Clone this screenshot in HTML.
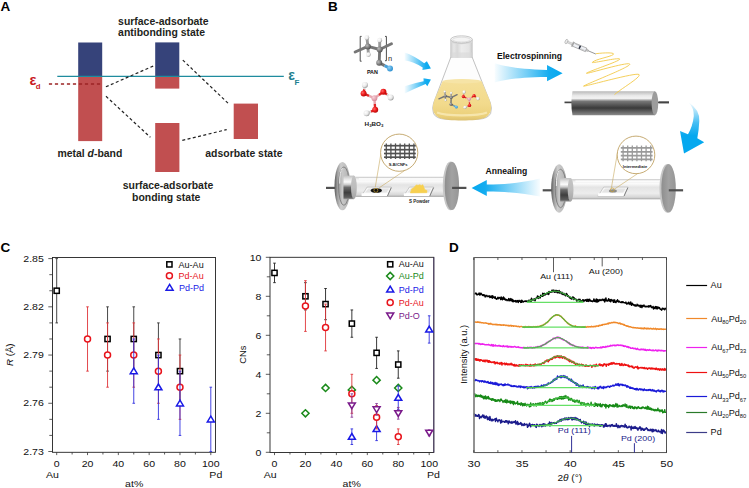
<!DOCTYPE html>
<html><head><meta charset="utf-8"><style>
html,body{margin:0;padding:0;background:#fff;}
svg{display:block;font-family:"Liberation Sans", sans-serif;}
</style></head><body>
<svg width="749" height="488" viewBox="0 0 749 488">
<rect width="749" height="488" fill="#fff"/>

<defs>
<linearGradient id="gAR" x1="0" y1="0" x2="1" y2="0"><stop offset="0" stop-color="#08a8ef" stop-opacity="0.03"/><stop offset="0.5" stop-color="#08a8ef" stop-opacity="0.6"/><stop offset="0.8" stop-color="#08a8ef" stop-opacity="0.95"/><stop offset="1" stop-color="#05a8ef"/></linearGradient>
<linearGradient id="gAL" x1="1" y1="0" x2="0" y2="0"><stop offset="0" stop-color="#08a8ef" stop-opacity="0.03"/><stop offset="0.5" stop-color="#08a8ef" stop-opacity="0.6"/><stop offset="0.8" stop-color="#08a8ef" stop-opacity="0.95"/><stop offset="1" stop-color="#05a8ef"/></linearGradient>
<linearGradient id="gAD" x1="0" y1="0" x2="0" y2="1"><stop offset="0" stop-color="#08a8ef" stop-opacity="0.03"/><stop offset="0.4" stop-color="#08a8ef" stop-opacity="0.75"/><stop offset="0.65" stop-color="#05a8ef"/></linearGradient>
<linearGradient id="gDrum" x1="0" y1="0" x2="0" y2="1"><stop offset="0" stop-color="#b8b8b8"/><stop offset="0.18" stop-color="#e8e8e8"/><stop offset="0.3" stop-color="#f4f4f4"/><stop offset="0.42" stop-color="#777"/><stop offset="0.7" stop-color="#3a3a3a"/><stop offset="1" stop-color="#8a8a8a"/></linearGradient>
<linearGradient id="gTube" x1="0" y1="0" x2="0" y2="1"><stop offset="0" stop-color="#c4c4c4"/><stop offset="0.1" stop-color="#eeeeee"/><stop offset="0.22" stop-color="#fbfbfb"/><stop offset="0.4" stop-color="#e4e4e4"/><stop offset="0.7" stop-color="#ededed"/><stop offset="0.9" stop-color="#d6d6d6"/><stop offset="1" stop-color="#a4a4a4"/></linearGradient>
<linearGradient id="gSleeve" x1="0" y1="0" x2="0" y2="1"><stop offset="0" stop-color="#c0c0c0"/><stop offset="0.15" stop-color="#e6e6e6"/><stop offset="0.27" stop-color="#fbfbfb"/><stop offset="0.38" stop-color="#cccccc"/><stop offset="0.5" stop-color="#6a6a6a"/><stop offset="0.72" stop-color="#3e3e3e"/><stop offset="0.92" stop-color="#5c5c5c"/><stop offset="1" stop-color="#9a9a9a"/></linearGradient>
<linearGradient id="gSleeveEnd" x1="0" y1="0" x2="0" y2="1"><stop offset="0" stop-color="#c4c4c4"/><stop offset="0.5" stop-color="#bdbdbd"/><stop offset="1" stop-color="#a4a4a4"/></linearGradient>
<linearGradient id="gFlFace" x1="0" y1="0" x2="1" y2="0"><stop offset="0" stop-color="#9a9a9a"/><stop offset="0.35" stop-color="#c8c8c8"/><stop offset="1" stop-color="#b2b2b2"/></linearGradient>
<linearGradient id="gFl" x1="0" y1="0" x2="1" y2="0"><stop offset="0" stop-color="#5a5a5a"/><stop offset="0.18" stop-color="#9c9c9c"/><stop offset="0.4" stop-color="#cdcdcd"/><stop offset="0.75" stop-color="#bdbdbd"/><stop offset="1" stop-color="#9a9a9a"/></linearGradient>
<linearGradient id="gFl2" x1="0" y1="0" x2="1" y2="0"><stop offset="0" stop-color="#8e8e8e"/><stop offset="0.5" stop-color="#a2a2a2"/><stop offset="1" stop-color="#969696"/></linearGradient>
<linearGradient id="gLiq" x1="0" y1="0" x2="0" y2="1"><stop offset="0" stop-color="#f5e09a"/><stop offset="0.6" stop-color="#f2da8c"/><stop offset="0.9" stop-color="#ebd07a"/><stop offset="1" stop-color="#dcc070"/></linearGradient>
<linearGradient id="gNeck" x1="0" y1="0" x2="1" y2="0"><stop offset="0" stop-color="#d2d2d2"/><stop offset="0.15" stop-color="#e6e6e6"/><stop offset="0.3" stop-color="#d8d8d8"/><stop offset="0.5" stop-color="#ececec"/><stop offset="0.85" stop-color="#e4e4e4"/><stop offset="1" stop-color="#cacaca"/></linearGradient>
<radialGradient id="rGray" cx="0.35" cy="0.35" r="0.7"><stop offset="0" stop-color="#bdbdbd"/><stop offset="1" stop-color="#4e4e4e"/></radialGradient>
<radialGradient id="rWhite" cx="0.35" cy="0.35" r="0.7"><stop offset="0" stop-color="#ffffff"/><stop offset="0.6" stop-color="#e8e8e8"/><stop offset="1" stop-color="#9a9a9a"/></radialGradient>
<radialGradient id="rRed" cx="0.35" cy="0.35" r="0.7"><stop offset="0" stop-color="#ff6a6a"/><stop offset="0.5" stop-color="#ee1c1c"/><stop offset="1" stop-color="#b00808"/></radialGradient>
<radialGradient id="rPink" cx="0.35" cy="0.35" r="0.7"><stop offset="0" stop-color="#f8d0d8"/><stop offset="1" stop-color="#d68a98"/></radialGradient>
<radialGradient id="rBlue" cx="0.35" cy="0.35" r="0.7"><stop offset="0" stop-color="#8fd0f5"/><stop offset="1" stop-color="#2a8fd0"/></radialGradient>
</defs>

<text transform="translate(0.60,10.90)" font-size="13.5" font-weight="bold" fill="#000" text-anchor="start">A</text>
<rect x="78.20" y="42.50" width="24.00" height="33.90" fill="#36437a"/>
<rect x="78.20" y="76.40" width="24.00" height="64.70" fill="#c14f50"/>
<rect x="155.20" y="42.40" width="24.10" height="34.20" fill="#36437a"/>
<rect x="155.20" y="76.60" width="24.10" height="12.00" fill="#c14f50"/>
<rect x="155.20" y="123.00" width="24.20" height="49.00" fill="#c14f50"/>
<rect x="233.70" y="103.60" width="24.30" height="35.40" fill="#c14f50"/>
<line x1="57.30" y1="76.40" x2="283.80" y2="76.40" stroke="#1f8c9e" stroke-width="1.4"/>
<line x1="48.90" y1="84.10" x2="101.00" y2="84.10" stroke="#9c2424" stroke-width="1.5" stroke-dasharray="3.2 2.8"/>
<line x1="105.90" y1="86.80" x2="154.70" y2="65.40" stroke="#222" stroke-width="1.2" stroke-dasharray="3 2.4"/>
<line x1="182.80" y1="60.10" x2="229.20" y2="104.30" stroke="#222" stroke-width="1.2" stroke-dasharray="3 2.4"/>
<line x1="106.00" y1="96.30" x2="150.40" y2="137.30" stroke="#222" stroke-width="1.2" stroke-dasharray="3 2.4"/>
<line x1="182.30" y1="140.40" x2="226.70" y2="129.60" stroke="#222" stroke-width="1.2" stroke-dasharray="3 2.4"/>
<text transform="translate(29.40,84.50)" font-size="14.5" font-weight="bold" fill="#c8161d" text-anchor="start">&#949;</text>
<text transform="translate(35.80,88.80)" font-size="7.8" font-weight="bold" fill="#c8161d" text-anchor="start">d</text>
<text transform="translate(288.20,80.20)" font-size="14" font-weight="bold" fill="#1e7f90" text-anchor="start">&#949;</text>
<text transform="translate(294.60,84.80)" font-size="8" font-weight="bold" fill="#1e7f90" text-anchor="start">F</text>
<text transform="translate(118.10,24.70)" font-size="10.45" font-weight="bold" fill="#231f20" text-anchor="start">surface-adsorbate</text>
<text transform="translate(118.10,36.40)" font-size="10.45" font-weight="bold" fill="#231f20" text-anchor="start">antibonding state</text>
<text x="57.4" y="157" font-size="10.45" font-weight="bold" fill="#231f20">metal <tspan font-style="italic">d</tspan>-band</text>
<text transform="translate(205.30,156.80)" font-size="10.45" font-weight="bold" fill="#231f20" text-anchor="start">adsorbate state</text>
<text transform="translate(122.70,188.90)" font-size="10.45" font-weight="bold" fill="#231f20" text-anchor="start">surface-adsorbate</text>
<text transform="translate(132.00,200.60)" font-size="10.45" font-weight="bold" fill="#231f20" text-anchor="start">bonding state</text>
<text transform="translate(328.00,11.20)" font-size="13.5" font-weight="bold" fill="#000" text-anchor="start">B</text>
<g stroke="#444" stroke-width="0.95" fill="none"><path d="M361.6,36.4 H360.2 V61.2 H361.6"/><path d="M385,36.4 H386.4 V60.7 H385"/></g>
<line x1="355.10" y1="52.00" x2="367.90" y2="46.40" stroke="#767676" stroke-width="2.9" stroke-linecap="round"/>
<line x1="367.90" y1="46.40" x2="379.70" y2="49.50" stroke="#767676" stroke-width="2.9" stroke-linecap="round"/>
<line x1="379.70" y1="49.50" x2="391.50" y2="43.80" stroke="#767676" stroke-width="2.9" stroke-linecap="round"/>
<line x1="367.90" y1="46.40" x2="366.90" y2="37.70" stroke="#9a9a9a" stroke-width="2.9" stroke-linecap="round"/>
<line x1="367.90" y1="46.40" x2="368.40" y2="54.60" stroke="#9a9a9a" stroke-width="2.9" stroke-linecap="round"/>
<line x1="379.70" y1="49.50" x2="379.70" y2="40.20" stroke="#9a9a9a" stroke-width="2.9" stroke-linecap="round"/>
<line x1="379.70" y1="49.50" x2="379.20" y2="62.80" stroke="#767676" stroke-width="2.9" stroke-linecap="round"/>
<line x1="379.20" y1="62.80" x2="384.60" y2="65.60" stroke="#767676" stroke-width="2.9"/>
<line x1="384.60" y1="65.60" x2="390.00" y2="68.40" stroke="#4aa0d8" stroke-width="2.9"/>
<circle cx="366.90" cy="37.70" r="2.40" fill="url(#rWhite)"/>
<circle cx="368.40" cy="54.60" r="2.40" fill="url(#rWhite)"/>
<circle cx="379.70" cy="40.20" r="2.40" fill="url(#rWhite)"/>
<circle cx="367.90" cy="46.40" r="3.00" fill="url(#rGray)"/>
<circle cx="379.70" cy="49.50" r="3.00" fill="url(#rGray)"/>
<circle cx="379.20" cy="62.80" r="3.00" fill="url(#rGray)"/>
<circle cx="390.00" cy="68.40" r="3.00" fill="url(#rBlue)"/>
<text transform="translate(388.00,60.80)" font-size="7.4" font-weight="normal" fill="#222" text-anchor="start">n</text>
<text transform="translate(372.40,74.30)" font-size="5.4" font-weight="bold" fill="#111" text-anchor="middle">PAN</text>
<line x1="374.40" y1="98.20" x2="369.00" y2="95.85" stroke="#e8a8b0" stroke-width="2.4"/>
<line x1="369.00" y1="95.85" x2="363.60" y2="93.50" stroke="#e02828" stroke-width="2.4"/>
<line x1="374.40" y1="98.20" x2="378.90" y2="95.00" stroke="#e8a8b0" stroke-width="2.4"/>
<line x1="378.90" y1="95.00" x2="383.40" y2="91.80" stroke="#e02828" stroke-width="2.4"/>
<line x1="374.40" y1="98.20" x2="374.80" y2="104.00" stroke="#e8a8b0" stroke-width="2.4"/>
<line x1="374.80" y1="104.00" x2="375.20" y2="109.80" stroke="#e02828" stroke-width="2.4"/>
<line x1="363.60" y1="93.50" x2="364.25" y2="89.20" stroke="#e02828" stroke-width="2.4"/>
<line x1="364.25" y1="89.20" x2="364.90" y2="84.90" stroke="#d8d8d8" stroke-width="2.4"/>
<line x1="383.40" y1="91.80" x2="387.05" y2="94.60" stroke="#e02828" stroke-width="2.4"/>
<line x1="387.05" y1="94.60" x2="390.70" y2="97.40" stroke="#d8d8d8" stroke-width="2.4"/>
<line x1="375.20" y1="109.80" x2="370.90" y2="111.55" stroke="#e02828" stroke-width="2.4"/>
<line x1="370.90" y1="111.55" x2="366.60" y2="113.30" stroke="#d8d8d8" stroke-width="2.4"/>
<circle cx="364.90" cy="84.90" r="3.00" fill="url(#rWhite)"/>
<circle cx="390.70" cy="97.40" r="3.00" fill="url(#rWhite)"/>
<circle cx="366.60" cy="113.30" r="3.00" fill="url(#rWhite)"/>
<circle cx="374.40" cy="98.20" r="2.90" fill="url(#rPink)"/>
<circle cx="363.60" cy="93.50" r="3.00" fill="url(#rRed)"/>
<circle cx="383.40" cy="91.80" r="3.00" fill="url(#rRed)"/>
<circle cx="375.20" cy="109.80" r="3.00" fill="url(#rRed)"/>
<text transform="translate(374.0,125.9) scale(1.17,1)" font-size="5.4" font-weight="bold" fill="#1a1a1a" text-anchor="middle">H<tspan font-size="3.7" dy="1.2">3</tspan><tspan dy="-1.2">BO</tspan><tspan font-size="3.7" dy="1.2">3</tspan></text>
<path d="M404.6,52.4 Q414,55.5 424.2,63.2 L426.9,61.3 L430.9,68.4 L422.4,69.9 L422.7,67.4 Q413.5,61.5 404.6,60.4 Z" fill="url(#gAR)"/>
<path d="M404.6,86.2 Q414,83 423.6,81.2 L423.5,78.2 L430.9,79.4 L427.3,86.3 L425.6,84 Q415,88.5 404.6,93.4 Z" fill="url(#gAR)"/>
<path d="M450.9,57 L433.6,103 Q431.8,108 433.5,113.5 Q436,118.8 446,119.2 L478,119.2 Q487.8,118.8 490.6,113.5 Q492.3,108 490.4,103 L472.1,57 Z" fill="#fdfdfd" stroke="#a8a8a8" stroke-width="0.7"/>
<path d="M442.6,81.2 Q462,77.6 481.6,81.2 L489.6,100 C492.4,108 491.6,113.6 485.8,117.2 C480,120.2 472,120.4 462,120.4 C452,120.4 444,120.2 438.2,117.2 C432.4,113.6 431.6,108 434.4,100 Z" fill="url(#gLiq)"/>
<path d="M437,112.5 C446,116.3 478,116.3 487,112.5" fill="none" stroke="#fbeec0" stroke-width="2.2" opacity="0.7"/>
<ellipse cx="462" cy="81.3" rx="19.4" ry="2.2" fill="#f6e4a6"/>
<rect x="450.70" y="39.50" width="21.60" height="18.10" fill="url(#gNeck)"/>
<rect x="450.70" y="52.50" width="21.60" height="5.10" fill="#d9d9d9" opacity="0.6"/>
<line x1="450.70" y1="39.50" x2="450.70" y2="57.60" stroke="#bdbdbd" stroke-width="0.6"/>
<line x1="472.30" y1="39.50" x2="472.30" y2="57.60" stroke="#bdbdbd" stroke-width="0.6"/>
<path d="M450.7,40 L450.7,42.8 Q461.5,45.6 472.3,42.8 L472.3,40 Z" fill="#d6d6d6"/>
<ellipse cx="461.5" cy="39.4" rx="10.8" ry="3.6" fill="#f4f4f4" stroke="#b4b4b4" stroke-width="0.7"/>
<ellipse cx="461.5" cy="39.6" rx="8.8" ry="2.4" fill="none" stroke="#d0d0d0" stroke-width="0.6"/>
<line x1="438.90" y1="98.80" x2="445.30" y2="96.00" stroke="#767676" stroke-width="1.45" stroke-linecap="round"/>
<line x1="445.30" y1="96.00" x2="451.20" y2="97.55" stroke="#767676" stroke-width="1.45" stroke-linecap="round"/>
<line x1="451.20" y1="97.55" x2="457.10" y2="94.70" stroke="#767676" stroke-width="1.45" stroke-linecap="round"/>
<line x1="445.30" y1="96.00" x2="444.80" y2="91.65" stroke="#9a9a9a" stroke-width="1.45" stroke-linecap="round"/>
<line x1="445.30" y1="96.00" x2="445.55" y2="100.10" stroke="#9a9a9a" stroke-width="1.45" stroke-linecap="round"/>
<line x1="451.20" y1="97.55" x2="451.20" y2="92.90" stroke="#9a9a9a" stroke-width="1.45" stroke-linecap="round"/>
<line x1="451.20" y1="97.55" x2="450.95" y2="104.20" stroke="#767676" stroke-width="1.45" stroke-linecap="round"/>
<line x1="450.95" y1="104.20" x2="453.65" y2="105.60" stroke="#767676" stroke-width="1.45"/>
<line x1="453.65" y1="105.60" x2="456.35" y2="107.00" stroke="#4aa0d8" stroke-width="1.45"/>
<circle cx="444.80" cy="91.65" r="1.20" fill="url(#rWhite)"/>
<circle cx="445.55" cy="100.10" r="1.20" fill="url(#rWhite)"/>
<circle cx="451.20" cy="92.90" r="1.20" fill="url(#rWhite)"/>
<circle cx="445.30" cy="96.00" r="1.50" fill="url(#rGray)"/>
<circle cx="451.20" cy="97.55" r="1.50" fill="url(#rGray)"/>
<circle cx="450.95" cy="104.20" r="1.50" fill="url(#rGray)"/>
<circle cx="456.35" cy="107.00" r="1.50" fill="url(#rBlue)"/>
<line x1="469.20" y1="99.15" x2="466.28" y2="97.88" stroke="#e8a8b0" stroke-width="1.296"/>
<line x1="466.28" y1="97.88" x2="463.37" y2="96.62" stroke="#e02828" stroke-width="1.296"/>
<line x1="469.20" y1="99.15" x2="471.63" y2="97.43" stroke="#e8a8b0" stroke-width="1.296"/>
<line x1="471.63" y1="97.43" x2="474.06" y2="95.70" stroke="#e02828" stroke-width="1.296"/>
<line x1="469.20" y1="99.15" x2="469.42" y2="102.29" stroke="#e8a8b0" stroke-width="1.296"/>
<line x1="469.42" y1="102.29" x2="469.63" y2="105.42" stroke="#e02828" stroke-width="1.296"/>
<line x1="463.37" y1="96.62" x2="463.72" y2="94.29" stroke="#e02828" stroke-width="1.296"/>
<line x1="463.72" y1="94.29" x2="464.07" y2="91.97" stroke="#d8d8d8" stroke-width="1.296"/>
<line x1="474.06" y1="95.70" x2="476.03" y2="97.21" stroke="#e02828" stroke-width="1.296"/>
<line x1="476.03" y1="97.21" x2="478.00" y2="98.72" stroke="#d8d8d8" stroke-width="1.296"/>
<line x1="469.63" y1="105.42" x2="467.31" y2="106.36" stroke="#e02828" stroke-width="1.296"/>
<line x1="467.31" y1="106.36" x2="464.99" y2="107.31" stroke="#d8d8d8" stroke-width="1.296"/>
<circle cx="464.07" cy="91.97" r="1.62" fill="url(#rWhite)"/>
<circle cx="478.00" cy="98.72" r="1.62" fill="url(#rWhite)"/>
<circle cx="464.99" cy="107.31" r="1.62" fill="url(#rWhite)"/>
<circle cx="469.20" cy="99.15" r="1.57" fill="url(#rPink)"/>
<circle cx="463.37" cy="96.62" r="1.62" fill="url(#rRed)"/>
<circle cx="474.06" cy="95.70" r="1.62" fill="url(#rRed)"/>
<circle cx="469.63" cy="105.42" r="1.62" fill="url(#rRed)"/>
<text transform="translate(497.00,58.70)" font-size="8.6" font-weight="bold" fill="#111" text-anchor="start">Electrospinning</text>
<path d="M494.8,63.2 C505,66.5 520,69.2 547,69.9 L547,65.1 L562.6,73.2 L547,81.2 L547,76.9 C520,77.2 505,79.3 494.8,82.4 Z" fill="url(#gAR)"/>
<g transform="translate(565.6,41.2) rotate(23)"><ellipse cx="0.9" cy="0" rx="1.3" ry="2.3" fill="#ececec" stroke="#8a8a8a" stroke-width="0.45"/><rect x="2" y="-0.9" width="5.4" height="1.8" fill="#dcdcdc" stroke="#9a9a9a" stroke-width="0.35"/><rect x="7.2" y="-2.5" width="1.1" height="5" fill="#bdbdbd" stroke="#888" stroke-width="0.3"/><rect x="8.3" y="-1.9" width="14" height="3.8" fill="#eef0f4" stroke="#6a6a6a" stroke-width="0.45"/><line x1="10" y1="-1.2" x2="14.5" y2="-1.2" stroke="#999" stroke-width="0.4"/><rect x="14.6" y="-1.6" width="1.6" height="3.2" fill="#2a3040"/><line x1="17" y1="1" x2="21" y2="1" stroke="#aaa" stroke-width="0.4"/><rect x="22.3" y="-0.9" width="2" height="1.8" fill="#cfcfcf" stroke="#777" stroke-width="0.3"/><line x1="24.3" y1="0" x2="32.9" y2="0" stroke="#555" stroke-width="0.55"/></g>
<line x1="564.50" y1="102.40" x2="572.00" y2="102.40" stroke="#444" stroke-width="1.7"/>
<line x1="655.00" y1="102.40" x2="669.00" y2="102.40" stroke="#444" stroke-width="1.7"/>
<path d="M572.5,91.2 L655,91.2 L655,115.2 L572.5,115.2 Q570.2,103.2 572.5,91.2 Z" fill="url(#gDrum)"/>
<ellipse cx="654.9" cy="103.2" rx="3.3" ry="12" fill="#9c9c9c"/>
<line x1="664.00" y1="102.40" x2="669.00" y2="102.40" stroke="#444" stroke-width="1.7"/>
<line x1="659.00" y1="102.40" x2="664.00" y2="102.40" stroke="#444" stroke-width="1.7"/>
<path d="M595.9,53.7 C606,52.4 616,52.6 613.1,54.6 C610,57 596,59 592.3,62.3 C590.5,64 617,57.5 619.6,58.9 C622,60.5 592,70 586.6,73.1 C583,75.2 626,62 629.6,63.9 C633,66 591,82 583.7,86 C580,88 636,72 639,74.5 C641.5,77 622,88 614.5,94.6" fill="none" stroke="#f3c94a" stroke-width="0.9"/>
<path d="M688.6,102.3 Q700,110 699.3,121 Q698.8,131 697.3,138.3 L704.2,142.3 L684,153.6 L680,131 L688,134.3 Q692.8,126 693.8,116 Q694,108 688.6,102.3 Z" fill="url(#gAD)"/>
<line x1="542.70" y1="190.30" x2="556.00" y2="190.30" stroke="#505050" stroke-width="2.2"/>
<ellipse cx="559.10" cy="188.50" rx="7.9" ry="24.2" fill="url(#gFl)"/>
<ellipse cx="560.60" cy="188.50" rx="5.4" ry="19.2" fill="url(#gFlFace)" stroke="#7c7c7c" stroke-width="0.9"/>
<path d="M556.40,186.00 Q556.20,174.00 559.20,170.40" fill="none" stroke="#f4f4f4" stroke-width="0.9"/>
<rect x="560.20" y="178.00" width="10.40" height="23.60" fill="url(#gSleeve)"/>
<rect x="572.00" y="179.20" width="90.00" height="20.10" fill="url(#gTube)"/>
<ellipse cx="570.60" cy="189.80" rx="2.9" ry="11.8" fill="url(#gSleeveEnd)"/>
<line x1="575.50" y1="181.20" x2="662.00" y2="181.20" stroke="#ffffff" stroke-width="1.2"/>
<ellipse cx="667.20" cy="188.30" rx="7.7" ry="24.4" fill="#c6c6c6"/>
<ellipse cx="668.60" cy="188.30" rx="7.2" ry="24.2" fill="url(#gFl2)"/>
<line x1="668.80" y1="190.30" x2="683.10" y2="190.30" stroke="#505050" stroke-width="2.2"/>
<path d="M597.90,196.20 L603.70,187.10 L627.90,187.10 L623.90,196.20 Z" fill="#f7f7f7" stroke="#a0a0a0" stroke-width="0.5"/>
<path d="M601.70,192.60 L605.10,188.50 L625.70,188.50 L623.10,192.60 Z" fill="#e4e4e4"/>
<path d="M598.10,193.30 L624.40,193.30 L623.90,196.10 L598.10,196.10 Z" fill="#ffffff"/>
<line x1="624.00" y1="196.10" x2="627.90" y2="187.70" stroke="#606060" stroke-width="0.7"/>
<ellipse cx="612.90" cy="190.90" rx="4" ry="1.6" fill="#8c8c8c"/>
<circle cx="612.30" cy="189.90" r="1.9" fill="none" stroke="#c9a030" stroke-width="0.7"/>
<line x1="611.40" y1="187.90" x2="617.60" y2="152.00" stroke="#c8aa60" stroke-width="0.6"/>
<line x1="614.00" y1="189.40" x2="637.50" y2="173.70" stroke="#c8aa60" stroke-width="0.6"/>
<circle cx="636.00" cy="154.90" r="18.80" fill="#fff" stroke="#bfa263" stroke-width="0.9"/>
<line x1="620.80" y1="147.90" x2="652.60" y2="147.90" stroke="#9a9a9a" stroke-width="1.7"/>
<line x1="620.80" y1="151.90" x2="652.60" y2="151.90" stroke="#9a9a9a" stroke-width="1.7"/>
<line x1="620.80" y1="155.70" x2="652.60" y2="155.70" stroke="#9a9a9a" stroke-width="1.7"/>
<line x1="620.80" y1="159.40" x2="652.60" y2="159.40" stroke="#9a9a9a" stroke-width="1.7"/>
<line x1="623.10" y1="145.60" x2="623.10" y2="161.20" stroke="#9a9a9a" stroke-width="1.3"/>
<line x1="627.70" y1="145.60" x2="627.70" y2="161.20" stroke="#9a9a9a" stroke-width="1.3"/>
<line x1="632.30" y1="145.60" x2="632.30" y2="161.20" stroke="#9a9a9a" stroke-width="1.3"/>
<line x1="636.90" y1="145.60" x2="636.90" y2="161.20" stroke="#9a9a9a" stroke-width="1.3"/>
<line x1="641.50" y1="145.60" x2="641.50" y2="161.20" stroke="#9a9a9a" stroke-width="1.3"/>
<line x1="646.10" y1="145.60" x2="646.10" y2="161.20" stroke="#9a9a9a" stroke-width="1.3"/>
<line x1="650.70" y1="145.60" x2="650.70" y2="161.20" stroke="#9a9a9a" stroke-width="1.3"/>
<text transform="translate(635.00,168.00)" font-size="4.1" font-weight="bold" fill="#222" text-anchor="middle">Intermediate</text>
<text transform="translate(485.60,174.20)" font-size="8.6" font-weight="bold" fill="#111" text-anchor="start">Annealing</text>
<path d="M540,178.5 C525,182 510,184.3 486.8,184.6 L486.8,180 L471.6,188 L486.8,196 L486.8,191.5 C510,191.7 525,193.5 540,196.6 Z" fill="url(#gAL)"/>
<line x1="326.00" y1="187.90" x2="339.30" y2="187.90" stroke="#505050" stroke-width="2.2"/>
<ellipse cx="342.40" cy="186.10" rx="7.9" ry="24.2" fill="url(#gFl)"/>
<ellipse cx="343.90" cy="186.10" rx="5.4" ry="19.2" fill="url(#gFlFace)" stroke="#7c7c7c" stroke-width="0.9"/>
<path d="M339.70,183.60 Q339.50,171.60 342.50,168.00" fill="none" stroke="#f4f4f4" stroke-width="0.9"/>
<rect x="343.50" y="175.60" width="10.40" height="23.60" fill="url(#gSleeve)"/>
<rect x="355.30" y="176.80" width="90.00" height="20.10" fill="url(#gTube)"/>
<ellipse cx="353.90" cy="187.40" rx="2.9" ry="11.8" fill="url(#gSleeveEnd)"/>
<line x1="358.80" y1="178.80" x2="445.30" y2="178.80" stroke="#ffffff" stroke-width="1.2"/>
<ellipse cx="450.50" cy="185.90" rx="7.7" ry="24.4" fill="#c6c6c6"/>
<ellipse cx="451.90" cy="185.90" rx="7.2" ry="24.2" fill="url(#gFl2)"/>
<line x1="452.10" y1="187.90" x2="466.40" y2="187.90" stroke="#505050" stroke-width="2.2"/>
<path d="M361.30,196.20 L367.10,187.10 L391.30,187.10 L387.30,196.20 Z" fill="#f7f7f7" stroke="#a0a0a0" stroke-width="0.5"/>
<path d="M365.10,192.60 L368.50,188.50 L389.10,188.50 L386.50,192.60 Z" fill="#e4e4e4"/>
<path d="M361.50,193.30 L387.80,193.30 L387.30,196.10 L361.50,196.10 Z" fill="#ffffff"/>
<line x1="387.40" y1="196.10" x2="391.30" y2="187.70" stroke="#606060" stroke-width="0.7"/>
<ellipse cx="376.30" cy="190.50" rx="5.6" ry="2.3" fill="#111"/>
<circle cx="375.90" cy="190.30" r="2.0" fill="none" stroke="#c9a030" stroke-width="0.7"/>
<path d="M403.60,196.20 L409.40,187.10 L433.60,187.10 L429.60,196.20 Z" fill="#f7f7f7" stroke="#a0a0a0" stroke-width="0.5"/>
<path d="M407.40,192.60 L410.80,188.50 L431.40,188.50 L428.80,192.60 Z" fill="#e4e4e4"/>
<path d="M403.80,193.30 L430.10,193.30 L429.60,196.10 L403.80,196.10 Z" fill="#ffffff"/>
<line x1="429.70" y1="196.10" x2="433.60" y2="187.70" stroke="#606060" stroke-width="0.7"/>
<path d="M410.40,192.90 L411.60,188.90 L413.60,187.70 L415.00,186.50 L416.20,184.90 L418.20,185.30 L419.80,184.70 L421.20,185.50 L422.80,184.70 L423.80,187.10 L424.80,189.70 L427.00,190.50 L426.80,192.70 Z" fill="#f7d050" stroke="#f7d050" stroke-width="0.6" stroke-linejoin="round"/>
<line x1="375.30" y1="187.00" x2="380.80" y2="154.30" stroke="#c8aa60" stroke-width="0.6"/>
<line x1="379.20" y1="187.80" x2="404.60" y2="170.60" stroke="#c8aa60" stroke-width="0.6"/>
<circle cx="399.20" cy="152.70" r="18.60" fill="#fff" stroke="#bfa263" stroke-width="0.9"/>
<line x1="384.00" y1="145.70" x2="415.80" y2="145.70" stroke="#505050" stroke-width="1.7"/>
<line x1="384.00" y1="149.70" x2="415.80" y2="149.70" stroke="#505050" stroke-width="1.7"/>
<line x1="384.00" y1="153.50" x2="415.80" y2="153.50" stroke="#505050" stroke-width="1.7"/>
<line x1="384.00" y1="157.20" x2="415.80" y2="157.20" stroke="#505050" stroke-width="1.7"/>
<line x1="386.30" y1="143.40" x2="386.30" y2="159.00" stroke="#505050" stroke-width="1.3"/>
<line x1="390.90" y1="143.40" x2="390.90" y2="159.00" stroke="#505050" stroke-width="1.3"/>
<line x1="395.50" y1="143.40" x2="395.50" y2="159.00" stroke="#505050" stroke-width="1.3"/>
<line x1="400.10" y1="143.40" x2="400.10" y2="159.00" stroke="#505050" stroke-width="1.3"/>
<line x1="404.70" y1="143.40" x2="404.70" y2="159.00" stroke="#505050" stroke-width="1.3"/>
<line x1="409.30" y1="143.40" x2="409.30" y2="159.00" stroke="#505050" stroke-width="1.3"/>
<line x1="413.90" y1="143.40" x2="413.90" y2="159.00" stroke="#505050" stroke-width="1.3"/>
<text transform="translate(398.20,165.80)" font-size="4.1" font-weight="bold" fill="#222" text-anchor="middle">S-B/CNFs</text>
<text transform="translate(419.30,203.00)" font-size="4.5" font-weight="bold" fill="#222" text-anchor="middle">S Powder</text>
<text transform="translate(0.50,252.30)" font-size="13.5" font-weight="bold" fill="#000" text-anchor="start">C</text>
<rect x="52.5" y="257.5" width="163.0" height="194.8" fill="none" stroke="#222" stroke-width="0.9"/>
<line x1="48.30" y1="258.60" x2="52.50" y2="258.60" stroke="#333" stroke-width="0.8"/>
<text transform="translate(43.80,261.80) scale(1.2,1)" font-size="8.8" font-weight="normal" fill="#111" text-anchor="end">2.85</text>
<line x1="49.30" y1="274.67" x2="52.50" y2="274.67" stroke="#333" stroke-width="0.8"/>
<line x1="49.30" y1="290.75" x2="52.50" y2="290.75" stroke="#333" stroke-width="0.8"/>
<line x1="48.30" y1="306.82" x2="52.50" y2="306.82" stroke="#333" stroke-width="0.8"/>
<text transform="translate(43.80,310.02) scale(1.2,1)" font-size="8.8" font-weight="normal" fill="#111" text-anchor="end">2.82</text>
<line x1="49.30" y1="322.90" x2="52.50" y2="322.90" stroke="#333" stroke-width="0.8"/>
<line x1="49.30" y1="338.97" x2="52.50" y2="338.97" stroke="#333" stroke-width="0.8"/>
<line x1="48.30" y1="355.05" x2="52.50" y2="355.05" stroke="#333" stroke-width="0.8"/>
<text transform="translate(43.80,358.25) scale(1.2,1)" font-size="8.8" font-weight="normal" fill="#111" text-anchor="end">2.79</text>
<line x1="49.30" y1="371.12" x2="52.50" y2="371.12" stroke="#333" stroke-width="0.8"/>
<line x1="49.30" y1="387.20" x2="52.50" y2="387.20" stroke="#333" stroke-width="0.8"/>
<line x1="48.30" y1="403.27" x2="52.50" y2="403.27" stroke="#333" stroke-width="0.8"/>
<text transform="translate(43.80,406.47) scale(1.2,1)" font-size="8.8" font-weight="normal" fill="#111" text-anchor="end">2.76</text>
<line x1="49.30" y1="419.35" x2="52.50" y2="419.35" stroke="#333" stroke-width="0.8"/>
<line x1="49.30" y1="435.42" x2="52.50" y2="435.42" stroke="#333" stroke-width="0.8"/>
<line x1="48.30" y1="451.50" x2="52.50" y2="451.50" stroke="#333" stroke-width="0.8"/>
<text transform="translate(43.80,454.70) scale(1.2,1)" font-size="8.8" font-weight="normal" fill="#111" text-anchor="end">2.73</text>
<line x1="56.70" y1="452.30" x2="56.70" y2="455.10" stroke="#333" stroke-width="0.8"/>
<text transform="translate(56.70,467.00) scale(1.2,1)" font-size="8.8" font-weight="normal" fill="#111" text-anchor="middle">0</text>
<line x1="72.11" y1="452.30" x2="72.11" y2="454.50" stroke="#333" stroke-width="0.8"/>
<line x1="87.52" y1="452.30" x2="87.52" y2="455.10" stroke="#333" stroke-width="0.8"/>
<text transform="translate(87.52,467.00) scale(1.2,1)" font-size="8.8" font-weight="normal" fill="#111" text-anchor="middle">20</text>
<line x1="102.93" y1="452.30" x2="102.93" y2="454.50" stroke="#333" stroke-width="0.8"/>
<line x1="118.34" y1="452.30" x2="118.34" y2="455.10" stroke="#333" stroke-width="0.8"/>
<text transform="translate(118.34,467.00) scale(1.2,1)" font-size="8.8" font-weight="normal" fill="#111" text-anchor="middle">40</text>
<line x1="133.75" y1="452.30" x2="133.75" y2="454.50" stroke="#333" stroke-width="0.8"/>
<line x1="149.16" y1="452.30" x2="149.16" y2="455.10" stroke="#333" stroke-width="0.8"/>
<text transform="translate(149.16,467.00) scale(1.2,1)" font-size="8.8" font-weight="normal" fill="#111" text-anchor="middle">60</text>
<line x1="164.57" y1="452.30" x2="164.57" y2="454.50" stroke="#333" stroke-width="0.8"/>
<line x1="179.98" y1="452.30" x2="179.98" y2="455.10" stroke="#333" stroke-width="0.8"/>
<text transform="translate(179.98,467.00) scale(1.2,1)" font-size="8.8" font-weight="normal" fill="#111" text-anchor="middle">80</text>
<line x1="195.39" y1="452.30" x2="195.39" y2="454.50" stroke="#333" stroke-width="0.8"/>
<line x1="210.80" y1="452.30" x2="210.80" y2="455.10" stroke="#333" stroke-width="0.8"/>
<text transform="translate(210.80,467.00) scale(1.2,1)" font-size="8.8" font-weight="normal" fill="#111" text-anchor="middle">100</text>
<text transform="translate(52.40,477.60) scale(1.2,1)" font-size="8.8" font-weight="normal" fill="#111" text-anchor="middle">Au</text>
<text transform="translate(215.80,477.60) scale(1.2,1)" font-size="8.8" font-weight="normal" fill="#111" text-anchor="middle">Pd</text>
<text transform="translate(134.20,486.60) scale(1.2,1)" font-size="8.8" font-weight="normal" fill="#111" text-anchor="middle">at%</text>
<text transform="translate(12.6,354.7) rotate(-90) scale(1.1,1)" font-size="8.8" fill="#111" text-anchor="middle"><tspan font-style="italic">R</tspan> (&#197;)</text>
<line x1="56.70" y1="258.60" x2="56.70" y2="322.90" stroke="#333" stroke-width="0.9"/>
<line x1="55.40" y1="258.60" x2="58.00" y2="258.60" stroke="#333" stroke-width="0.9"/>
<line x1="55.40" y1="322.90" x2="58.00" y2="322.90" stroke="#333" stroke-width="0.9"/>
<line x1="107.55" y1="306.83" x2="107.55" y2="371.13" stroke="#333" stroke-width="0.9"/>
<line x1="106.25" y1="306.83" x2="108.85" y2="306.83" stroke="#333" stroke-width="0.9"/>
<line x1="106.25" y1="371.13" x2="108.85" y2="371.13" stroke="#333" stroke-width="0.9"/>
<line x1="133.75" y1="306.83" x2="133.75" y2="371.13" stroke="#333" stroke-width="0.9"/>
<line x1="132.45" y1="306.83" x2="135.05" y2="306.83" stroke="#333" stroke-width="0.9"/>
<line x1="132.45" y1="371.13" x2="135.05" y2="371.13" stroke="#333" stroke-width="0.9"/>
<line x1="158.41" y1="322.90" x2="158.41" y2="387.20" stroke="#333" stroke-width="0.9"/>
<line x1="157.11" y1="322.90" x2="159.71" y2="322.90" stroke="#333" stroke-width="0.9"/>
<line x1="157.11" y1="387.20" x2="159.71" y2="387.20" stroke="#333" stroke-width="0.9"/>
<line x1="179.98" y1="338.98" x2="179.98" y2="403.28" stroke="#333" stroke-width="0.9"/>
<line x1="178.68" y1="338.98" x2="181.28" y2="338.98" stroke="#333" stroke-width="0.9"/>
<line x1="178.68" y1="403.28" x2="181.28" y2="403.28" stroke="#333" stroke-width="0.9"/>
<rect x="54.10" y="288.15" width="5.2" height="5.2" fill="#fff" stroke="#000" stroke-width="1.5"/>
<rect x="104.95" y="336.38" width="5.2" height="5.2" fill="#fff" stroke="#000" stroke-width="1.5"/>
<rect x="131.15" y="336.38" width="5.2" height="5.2" fill="#fff" stroke="#000" stroke-width="1.5"/>
<rect x="155.81" y="352.45" width="5.2" height="5.2" fill="#fff" stroke="#000" stroke-width="1.5"/>
<rect x="177.38" y="368.53" width="5.2" height="5.2" fill="#fff" stroke="#000" stroke-width="1.5"/>
<line x1="87.52" y1="306.83" x2="87.52" y2="371.13" stroke="#e0353a" stroke-width="0.9"/>
<line x1="86.22" y1="306.83" x2="88.82" y2="306.83" stroke="#e0353a" stroke-width="0.9"/>
<line x1="86.22" y1="371.13" x2="88.82" y2="371.13" stroke="#e0353a" stroke-width="0.9"/>
<line x1="107.55" y1="322.90" x2="107.55" y2="387.20" stroke="#e0353a" stroke-width="0.9"/>
<line x1="106.25" y1="322.90" x2="108.85" y2="322.90" stroke="#e0353a" stroke-width="0.9"/>
<line x1="106.25" y1="387.20" x2="108.85" y2="387.20" stroke="#e0353a" stroke-width="0.9"/>
<line x1="133.75" y1="322.90" x2="133.75" y2="387.20" stroke="#e0353a" stroke-width="0.9"/>
<line x1="132.45" y1="322.90" x2="135.05" y2="322.90" stroke="#e0353a" stroke-width="0.9"/>
<line x1="132.45" y1="387.20" x2="135.05" y2="387.20" stroke="#e0353a" stroke-width="0.9"/>
<line x1="158.41" y1="338.98" x2="158.41" y2="403.28" stroke="#e0353a" stroke-width="0.9"/>
<line x1="157.11" y1="338.98" x2="159.71" y2="338.98" stroke="#e0353a" stroke-width="0.9"/>
<line x1="157.11" y1="403.28" x2="159.71" y2="403.28" stroke="#e0353a" stroke-width="0.9"/>
<line x1="179.98" y1="355.05" x2="179.98" y2="419.35" stroke="#e0353a" stroke-width="0.9"/>
<line x1="178.68" y1="355.05" x2="181.28" y2="355.05" stroke="#e0353a" stroke-width="0.9"/>
<line x1="178.68" y1="419.35" x2="181.28" y2="419.35" stroke="#e0353a" stroke-width="0.9"/>
<circle cx="87.52" cy="338.98" r="3.0" fill="#fff" stroke="#e8141c" stroke-width="1.5"/>
<circle cx="107.55" cy="355.05" r="3.0" fill="#fff" stroke="#e8141c" stroke-width="1.5"/>
<circle cx="133.75" cy="355.05" r="3.0" fill="#fff" stroke="#e8141c" stroke-width="1.5"/>
<circle cx="158.41" cy="371.13" r="3.0" fill="#fff" stroke="#e8141c" stroke-width="1.5"/>
<circle cx="179.98" cy="387.20" r="3.0" fill="#fff" stroke="#e8141c" stroke-width="1.5"/>
<line x1="133.75" y1="338.98" x2="133.75" y2="403.28" stroke="#3030e0" stroke-width="0.9"/>
<line x1="132.45" y1="338.98" x2="135.05" y2="338.98" stroke="#3030e0" stroke-width="0.9"/>
<line x1="132.45" y1="403.28" x2="135.05" y2="403.28" stroke="#3030e0" stroke-width="0.9"/>
<line x1="158.41" y1="355.05" x2="158.41" y2="419.35" stroke="#3030e0" stroke-width="0.9"/>
<line x1="157.11" y1="355.05" x2="159.71" y2="355.05" stroke="#3030e0" stroke-width="0.9"/>
<line x1="157.11" y1="419.35" x2="159.71" y2="419.35" stroke="#3030e0" stroke-width="0.9"/>
<line x1="179.98" y1="371.13" x2="179.98" y2="435.43" stroke="#3030e0" stroke-width="0.9"/>
<line x1="178.68" y1="371.13" x2="181.28" y2="371.13" stroke="#3030e0" stroke-width="0.9"/>
<line x1="178.68" y1="435.43" x2="181.28" y2="435.43" stroke="#3030e0" stroke-width="0.9"/>
<line x1="210.80" y1="387.20" x2="210.80" y2="451.50" stroke="#3030e0" stroke-width="0.9"/>
<line x1="209.50" y1="387.20" x2="212.10" y2="387.20" stroke="#3030e0" stroke-width="0.9"/>
<line x1="209.50" y1="451.50" x2="212.10" y2="451.50" stroke="#3030e0" stroke-width="0.9"/>
<path d="M133.75,367.93 L137.25,373.73 L130.25,373.73 Z" fill="#fff" stroke="#1a1ae6" stroke-width="1.5" stroke-linejoin="miter"/>
<path d="M158.41,384.00 L161.91,389.80 L154.91,389.80 Z" fill="#fff" stroke="#1a1ae6" stroke-width="1.5" stroke-linejoin="miter"/>
<path d="M179.98,400.08 L183.48,405.88 L176.48,405.88 Z" fill="#fff" stroke="#1a1ae6" stroke-width="1.5" stroke-linejoin="miter"/>
<path d="M210.80,416.15 L214.30,421.95 L207.30,421.95 Z" fill="#fff" stroke="#1a1ae6" stroke-width="1.5" stroke-linejoin="miter"/>
<rect x="166.80" y="261.80" width="5.2" height="5.2" fill="#fff" stroke="#000" stroke-width="1.5"/>
<text transform="translate(178.60,267.50) scale(1.1,1)" font-size="8.2" font-weight="normal" fill="#111" text-anchor="start">Au-Au</text>
<circle cx="169.40" cy="275.80" r="3.0" fill="#fff" stroke="#e8141c" stroke-width="1.5"/>
<text transform="translate(178.60,278.90) scale(1.1,1)" font-size="8.2" font-weight="normal" fill="#e8141c" text-anchor="start">Pd-Au</text>
<path d="M169.60,284.40 L173.10,290.20 L166.10,290.20 Z" fill="#fff" stroke="#1a1ae6" stroke-width="1.5" stroke-linejoin="miter"/>
<text transform="translate(179.00,290.70) scale(1.1,1)" font-size="8.2" font-weight="normal" fill="#1a1ae6" text-anchor="start">Pd-Pd</text>
<rect x="270.0" y="257.3" width="163.8" height="195.2" fill="none" stroke="#222" stroke-width="0.9"/>
<line x1="433.80" y1="257.30" x2="433.80" y2="452.50" stroke="#4a3a66" stroke-width="0.9"/>
<line x1="265.80" y1="452.30" x2="270.00" y2="452.30" stroke="#333" stroke-width="0.8"/>
<text transform="translate(261.40,455.50) scale(1.2,1)" font-size="8.8" font-weight="normal" fill="#111" text-anchor="end">0</text>
<line x1="266.80" y1="432.80" x2="270.00" y2="432.80" stroke="#333" stroke-width="0.8"/>
<line x1="265.80" y1="413.30" x2="270.00" y2="413.30" stroke="#333" stroke-width="0.8"/>
<text transform="translate(261.40,416.50) scale(1.2,1)" font-size="8.8" font-weight="normal" fill="#111" text-anchor="end">2</text>
<line x1="266.80" y1="393.80" x2="270.00" y2="393.80" stroke="#333" stroke-width="0.8"/>
<line x1="265.80" y1="374.30" x2="270.00" y2="374.30" stroke="#333" stroke-width="0.8"/>
<text transform="translate(261.40,377.50) scale(1.2,1)" font-size="8.8" font-weight="normal" fill="#111" text-anchor="end">4</text>
<line x1="266.80" y1="354.80" x2="270.00" y2="354.80" stroke="#333" stroke-width="0.8"/>
<line x1="265.80" y1="335.30" x2="270.00" y2="335.30" stroke="#333" stroke-width="0.8"/>
<text transform="translate(261.40,338.50) scale(1.2,1)" font-size="8.8" font-weight="normal" fill="#111" text-anchor="end">6</text>
<line x1="266.80" y1="315.80" x2="270.00" y2="315.80" stroke="#333" stroke-width="0.8"/>
<line x1="265.80" y1="296.30" x2="270.00" y2="296.30" stroke="#333" stroke-width="0.8"/>
<text transform="translate(261.40,299.50) scale(1.2,1)" font-size="8.8" font-weight="normal" fill="#111" text-anchor="end">8</text>
<line x1="266.80" y1="276.80" x2="270.00" y2="276.80" stroke="#333" stroke-width="0.8"/>
<line x1="265.80" y1="257.30" x2="270.00" y2="257.30" stroke="#333" stroke-width="0.8"/>
<text transform="translate(261.40,260.50) scale(1.2,1)" font-size="8.8" font-weight="normal" fill="#111" text-anchor="end">10</text>
<line x1="274.50" y1="452.50" x2="274.50" y2="455.10" stroke="#333" stroke-width="0.8"/>
<text transform="translate(274.50,467.30) scale(1.2,1)" font-size="8.8" font-weight="normal" fill="#111" text-anchor="middle">0</text>
<line x1="289.97" y1="452.50" x2="289.97" y2="454.50" stroke="#333" stroke-width="0.8"/>
<line x1="305.44" y1="452.50" x2="305.44" y2="455.10" stroke="#333" stroke-width="0.8"/>
<text transform="translate(305.44,467.30) scale(1.2,1)" font-size="8.8" font-weight="normal" fill="#111" text-anchor="middle">20</text>
<line x1="320.91" y1="452.50" x2="320.91" y2="454.50" stroke="#333" stroke-width="0.8"/>
<line x1="336.38" y1="452.50" x2="336.38" y2="455.10" stroke="#333" stroke-width="0.8"/>
<text transform="translate(336.38,467.30) scale(1.2,1)" font-size="8.8" font-weight="normal" fill="#111" text-anchor="middle">40</text>
<line x1="351.85" y1="452.50" x2="351.85" y2="454.50" stroke="#333" stroke-width="0.8"/>
<line x1="367.32" y1="452.50" x2="367.32" y2="455.10" stroke="#333" stroke-width="0.8"/>
<text transform="translate(367.32,467.30) scale(1.2,1)" font-size="8.8" font-weight="normal" fill="#111" text-anchor="middle">60</text>
<line x1="382.79" y1="452.50" x2="382.79" y2="454.50" stroke="#333" stroke-width="0.8"/>
<line x1="398.26" y1="452.50" x2="398.26" y2="455.10" stroke="#333" stroke-width="0.8"/>
<text transform="translate(398.26,467.30) scale(1.2,1)" font-size="8.8" font-weight="normal" fill="#111" text-anchor="middle">80</text>
<line x1="413.73" y1="452.50" x2="413.73" y2="454.50" stroke="#333" stroke-width="0.8"/>
<line x1="429.20" y1="452.50" x2="429.20" y2="455.10" stroke="#333" stroke-width="0.8"/>
<text transform="translate(429.20,467.30) scale(1.2,1)" font-size="8.8" font-weight="normal" fill="#111" text-anchor="middle">100</text>
<text transform="translate(270.10,478.20) scale(1.2,1)" font-size="8.8" font-weight="normal" fill="#111" text-anchor="middle">Au</text>
<text transform="translate(433.50,478.20) scale(1.2,1)" font-size="8.8" font-weight="normal" fill="#111" text-anchor="middle">Pd</text>
<text transform="translate(351.70,486.90) scale(1.2,1)" font-size="8.8" font-weight="normal" fill="#111" text-anchor="middle">at%</text>
<text transform="translate(245.90,354.60) rotate(-90)" font-size="9.3" font-weight="normal" fill="#111" text-anchor="middle">CNs</text>
<line x1="274.50" y1="263.15" x2="274.50" y2="282.65" stroke="#222" stroke-width="0.9"/>
<line x1="273.20" y1="263.15" x2="275.80" y2="263.15" stroke="#222" stroke-width="0.9"/>
<line x1="273.20" y1="282.65" x2="275.80" y2="282.65" stroke="#222" stroke-width="0.9"/>
<line x1="305.44" y1="282.65" x2="305.44" y2="309.95" stroke="#222" stroke-width="0.9"/>
<line x1="304.14" y1="282.65" x2="306.74" y2="282.65" stroke="#222" stroke-width="0.9"/>
<line x1="304.14" y1="309.95" x2="306.74" y2="309.95" stroke="#222" stroke-width="0.9"/>
<line x1="325.55" y1="288.50" x2="325.55" y2="319.70" stroke="#222" stroke-width="0.9"/>
<line x1="324.25" y1="288.50" x2="326.85" y2="288.50" stroke="#222" stroke-width="0.9"/>
<line x1="324.25" y1="319.70" x2="326.85" y2="319.70" stroke="#222" stroke-width="0.9"/>
<line x1="351.85" y1="309.95" x2="351.85" y2="337.25" stroke="#222" stroke-width="0.9"/>
<line x1="350.55" y1="309.95" x2="353.15" y2="309.95" stroke="#222" stroke-width="0.9"/>
<line x1="350.55" y1="337.25" x2="353.15" y2="337.25" stroke="#222" stroke-width="0.9"/>
<line x1="376.60" y1="337.25" x2="376.60" y2="368.45" stroke="#222" stroke-width="0.9"/>
<line x1="375.30" y1="337.25" x2="377.90" y2="337.25" stroke="#222" stroke-width="0.9"/>
<line x1="375.30" y1="368.45" x2="377.90" y2="368.45" stroke="#222" stroke-width="0.9"/>
<line x1="398.26" y1="350.90" x2="398.26" y2="378.20" stroke="#222" stroke-width="0.9"/>
<line x1="396.96" y1="350.90" x2="399.56" y2="350.90" stroke="#222" stroke-width="0.9"/>
<line x1="396.96" y1="378.20" x2="399.56" y2="378.20" stroke="#222" stroke-width="0.9"/>
<rect x="271.90" y="270.30" width="5.2" height="5.2" fill="#fff" stroke="#000" stroke-width="1.5"/>
<rect x="302.84" y="293.70" width="5.2" height="5.2" fill="#fff" stroke="#000" stroke-width="1.5"/>
<rect x="322.95" y="301.50" width="5.2" height="5.2" fill="#fff" stroke="#000" stroke-width="1.5"/>
<rect x="349.25" y="321.00" width="5.2" height="5.2" fill="#fff" stroke="#000" stroke-width="1.5"/>
<rect x="374.00" y="350.25" width="5.2" height="5.2" fill="#fff" stroke="#000" stroke-width="1.5"/>
<rect x="395.66" y="361.95" width="5.2" height="5.2" fill="#fff" stroke="#000" stroke-width="1.5"/>
<path d="M305.44,409.70 L309.04,413.30 L305.44,416.90 L301.84,413.30 Z" fill="#fff" stroke="#1a8a1a" stroke-width="1.5"/>
<path d="M325.55,384.35 L329.15,387.95 L325.55,391.55 L321.95,387.95 Z" fill="#fff" stroke="#1a8a1a" stroke-width="1.5"/>
<path d="M351.85,386.30 L355.45,389.90 L351.85,393.50 L348.25,389.90 Z" fill="#fff" stroke="#1a8a1a" stroke-width="1.5"/>
<path d="M376.60,376.55 L380.20,380.15 L376.60,383.75 L373.00,380.15 Z" fill="#fff" stroke="#1a8a1a" stroke-width="1.5"/>
<path d="M398.26,384.35 L401.86,387.95 L398.26,391.55 L394.66,387.95 Z" fill="#fff" stroke="#1a8a1a" stroke-width="1.5"/>
<line x1="351.85" y1="428.90" x2="351.85" y2="444.50" stroke="#3030e0" stroke-width="0.9"/>
<line x1="350.55" y1="428.90" x2="353.15" y2="428.90" stroke="#3030e0" stroke-width="0.9"/>
<line x1="350.55" y1="444.50" x2="353.15" y2="444.50" stroke="#3030e0" stroke-width="0.9"/>
<line x1="376.60" y1="417.20" x2="376.60" y2="440.60" stroke="#3030e0" stroke-width="0.9"/>
<line x1="375.30" y1="417.20" x2="377.90" y2="417.20" stroke="#3030e0" stroke-width="0.9"/>
<line x1="375.30" y1="440.60" x2="377.90" y2="440.60" stroke="#3030e0" stroke-width="0.9"/>
<line x1="398.26" y1="386.00" x2="398.26" y2="409.40" stroke="#3030e0" stroke-width="0.9"/>
<line x1="396.96" y1="386.00" x2="399.56" y2="386.00" stroke="#3030e0" stroke-width="0.9"/>
<line x1="396.96" y1="409.40" x2="399.56" y2="409.40" stroke="#3030e0" stroke-width="0.9"/>
<line x1="429.20" y1="315.80" x2="429.20" y2="343.10" stroke="#3030e0" stroke-width="0.9"/>
<line x1="427.90" y1="315.80" x2="430.50" y2="315.80" stroke="#3030e0" stroke-width="0.9"/>
<line x1="427.90" y1="343.10" x2="430.50" y2="343.10" stroke="#3030e0" stroke-width="0.9"/>
<path d="M351.85,433.50 L355.35,439.30 L348.35,439.30 Z" fill="#fff" stroke="#1a1ae6" stroke-width="1.5" stroke-linejoin="miter"/>
<path d="M376.60,425.70 L380.10,431.50 L373.10,431.50 Z" fill="#fff" stroke="#1a1ae6" stroke-width="1.5" stroke-linejoin="miter"/>
<path d="M398.26,394.50 L401.76,400.30 L394.76,400.30 Z" fill="#fff" stroke="#1a1ae6" stroke-width="1.5" stroke-linejoin="miter"/>
<path d="M429.20,326.25 L432.70,332.05 L425.70,332.05 Z" fill="#fff" stroke="#1a1ae6" stroke-width="1.5" stroke-linejoin="miter"/>
<line x1="305.44" y1="280.70" x2="305.44" y2="331.40" stroke="#e0353a" stroke-width="0.9"/>
<line x1="304.14" y1="280.70" x2="306.74" y2="280.70" stroke="#e0353a" stroke-width="0.9"/>
<line x1="304.14" y1="331.40" x2="306.74" y2="331.40" stroke="#e0353a" stroke-width="0.9"/>
<line x1="325.55" y1="304.10" x2="325.55" y2="350.90" stroke="#e0353a" stroke-width="0.9"/>
<line x1="324.25" y1="304.10" x2="326.85" y2="304.10" stroke="#e0353a" stroke-width="0.9"/>
<line x1="324.25" y1="350.90" x2="326.85" y2="350.90" stroke="#e0353a" stroke-width="0.9"/>
<line x1="351.85" y1="374.30" x2="351.85" y2="413.30" stroke="#e0353a" stroke-width="0.9"/>
<line x1="350.55" y1="374.30" x2="353.15" y2="374.30" stroke="#e0353a" stroke-width="0.9"/>
<line x1="350.55" y1="413.30" x2="353.15" y2="413.30" stroke="#e0353a" stroke-width="0.9"/>
<line x1="376.60" y1="405.50" x2="376.60" y2="428.90" stroke="#e0353a" stroke-width="0.9"/>
<line x1="375.30" y1="405.50" x2="377.90" y2="405.50" stroke="#e0353a" stroke-width="0.9"/>
<line x1="375.30" y1="428.90" x2="377.90" y2="428.90" stroke="#e0353a" stroke-width="0.9"/>
<line x1="398.26" y1="428.90" x2="398.26" y2="444.50" stroke="#e0353a" stroke-width="0.9"/>
<line x1="396.96" y1="428.90" x2="399.56" y2="428.90" stroke="#e0353a" stroke-width="0.9"/>
<line x1="396.96" y1="444.50" x2="399.56" y2="444.50" stroke="#e0353a" stroke-width="0.9"/>
<circle cx="305.44" cy="306.05" r="3.0" fill="#fff" stroke="#e8141c" stroke-width="1.5"/>
<circle cx="325.55" cy="327.50" r="3.0" fill="#fff" stroke="#e8141c" stroke-width="1.5"/>
<circle cx="351.85" cy="393.80" r="3.0" fill="#fff" stroke="#e8141c" stroke-width="1.5"/>
<circle cx="376.60" cy="417.20" r="3.0" fill="#fff" stroke="#e8141c" stroke-width="1.5"/>
<circle cx="398.26" cy="436.70" r="3.0" fill="#fff" stroke="#e8141c" stroke-width="1.5"/>
<line x1="351.85" y1="393.80" x2="351.85" y2="417.20" stroke="#8a3a9a" stroke-width="0.9"/>
<line x1="350.55" y1="393.80" x2="353.15" y2="393.80" stroke="#8a3a9a" stroke-width="0.9"/>
<line x1="350.55" y1="417.20" x2="353.15" y2="417.20" stroke="#8a3a9a" stroke-width="0.9"/>
<line x1="376.60" y1="403.55" x2="376.60" y2="415.25" stroke="#8a3a9a" stroke-width="0.9"/>
<line x1="375.30" y1="403.55" x2="377.90" y2="403.55" stroke="#8a3a9a" stroke-width="0.9"/>
<line x1="375.30" y1="415.25" x2="377.90" y2="415.25" stroke="#8a3a9a" stroke-width="0.9"/>
<line x1="398.26" y1="407.45" x2="398.26" y2="419.15" stroke="#8a3a9a" stroke-width="0.9"/>
<line x1="396.96" y1="407.45" x2="399.56" y2="407.45" stroke="#8a3a9a" stroke-width="0.9"/>
<line x1="396.96" y1="419.15" x2="399.56" y2="419.15" stroke="#8a3a9a" stroke-width="0.9"/>
<line x1="429.20" y1="429.88" x2="429.20" y2="435.73" stroke="#8a3a9a" stroke-width="0.9"/>
<line x1="427.90" y1="429.88" x2="430.50" y2="429.88" stroke="#8a3a9a" stroke-width="0.9"/>
<line x1="427.90" y1="435.73" x2="430.50" y2="435.73" stroke="#8a3a9a" stroke-width="0.9"/>
<path d="M351.85,408.70 L355.35,402.90 L348.35,402.90 Z" fill="#fff" stroke="#7a1a8a" stroke-width="1.5"/>
<path d="M376.60,412.60 L380.10,406.80 L373.10,406.80 Z" fill="#fff" stroke="#7a1a8a" stroke-width="1.5"/>
<path d="M398.26,416.50 L401.76,410.70 L394.76,410.70 Z" fill="#fff" stroke="#7a1a8a" stroke-width="1.5"/>
<path d="M429.20,436.00 L432.70,430.20 L425.70,430.20 Z" fill="#fff" stroke="#7a1a8a" stroke-width="1.5"/>
<rect x="387.60" y="261.70" width="5.2" height="5.2" fill="#fff" stroke="#000" stroke-width="1.5"/>
<text transform="translate(398.70,267.40) scale(1.1,1)" font-size="8.2" font-weight="normal" fill="#111" text-anchor="start">Au-Au</text>
<path d="M390.20,272.40 L393.80,276.00 L390.20,279.60 L386.60,276.00 Z" fill="#fff" stroke="#1a8a1a" stroke-width="1.5"/>
<text transform="translate(398.70,279.10) scale(1.1,1)" font-size="8.2" font-weight="normal" fill="#1a8a1a" text-anchor="start">Au-Pd</text>
<path d="M390.20,286.20 L393.70,292.00 L386.70,292.00 Z" fill="#fff" stroke="#1a1ae6" stroke-width="1.5" stroke-linejoin="miter"/>
<text transform="translate(398.70,292.50) scale(1.1,1)" font-size="8.2" font-weight="normal" fill="#1a1ae6" text-anchor="start">Pd-Pd</text>
<circle cx="390.20" cy="302.40" r="3.0" fill="#fff" stroke="#e8141c" stroke-width="1.5"/>
<text transform="translate(398.70,305.50) scale(1.1,1)" font-size="8.2" font-weight="normal" fill="#e8141c" text-anchor="start">Pd-Au</text>
<path d="M390.20,318.80 L393.70,313.00 L386.70,313.00 Z" fill="#fff" stroke="#7a1a8a" stroke-width="1.5"/>
<text transform="translate(398.70,318.70) scale(1.1,1)" font-size="8.2" font-weight="normal" fill="#7a1a8a" text-anchor="start">Pd-O</text>
<text transform="translate(449.00,252.20)" font-size="13.5" font-weight="bold" fill="#000" text-anchor="start">D</text>
<polyline points="474.30,293.34 474.70,293.96 475.10,293.45 475.50,293.43 475.90,293.02 476.30,293.62 476.70,294.67 477.10,294.21 477.50,294.74 477.90,294.21 478.30,294.39 478.70,294.31 479.10,292.99 479.50,294.96 479.90,294.77 480.30,294.85 480.70,293.29 481.10,293.33 481.50,294.06 481.90,294.46 482.30,295.13 482.70,294.95 483.10,295.47 483.50,294.69 483.90,295.49 484.30,295.65 484.70,294.95 485.10,296.83 485.50,296.06 485.90,296.63 486.30,295.37 486.70,295.37 487.10,295.77 487.50,296.04 487.90,296.69 488.30,296.50 488.70,296.07 489.10,295.78 489.50,296.21 489.90,297.61 490.30,296.18 490.70,297.06 491.10,297.29 491.50,295.94 491.90,297.18 492.30,298.21 492.70,295.81 493.10,297.16 493.50,297.40 493.90,296.95 494.30,298.02 494.70,297.67 495.10,296.70 495.50,298.49 495.90,298.44 496.30,298.72 496.70,299.15 497.10,298.41 497.50,298.28 497.90,297.28 498.30,298.77 498.70,297.90 499.10,298.06 499.50,297.50 499.90,297.76 500.30,298.13 500.70,299.53 501.10,297.07 501.50,297.55 501.90,298.86 502.30,299.82 502.70,299.22 503.10,297.41 503.50,297.01 503.90,299.22 504.30,298.46 504.70,298.24 505.10,299.87 505.50,300.03 505.90,299.39 506.30,299.53 506.70,299.74 507.10,300.69 507.50,300.03 507.90,300.03 508.30,300.12 508.70,298.61 509.10,300.82 509.50,300.65 509.90,300.41 510.30,298.61 510.70,299.69 511.10,300.87 511.50,298.95 511.90,300.25 512.30,301.22 512.70,299.54 513.10,301.80 513.50,301.08 513.90,300.62 514.30,301.04 514.70,301.34 515.10,301 515.50,301.83 515.90,300.53 516.30,300.76 516.70,301.90 517.10,301.19 517.50,300.55 517.90,301.95 518.30,302.37 518.70,300.97 519.10,300.29 519.50,301.24 519.90,301.25 520.30,301.13 520.70,302.39 521.10,300.55 521.50,302.25 521.90,300.34 522.30,300.68 522.70,301.72 523.10,302.08 523.50,301.85 523.90,301.44 524.30,301.26 524.70,301.24 525.10,301.52 525.50,300.92 525.90,301.22 526.30,301.40 526.70,300.93 527.10,301.45 527.50,301.25 527.90,302.28 528.30,300.96 528.70,300.33 529.10,300.30 529.50,300.50 529.90,301.12 530.30,300.10 530.70,300.55 531.10,301.55 531.50,298.15 531.90,299.13 532.30,300.05 532.70,300.05 533.10,299.81 533.50,299.19 533.90,299.88 534.30,299.46 534.70,298.72 535.10,300.79 535.50,299.08 535.90,298.24 536.30,298.42 536.70,298.16 537.10,298.12 537.50,295.94 537.90,297.44 538.30,298.38 538.70,296.56 539.10,297.19 539.50,297.76 539.90,297.48 540.30,297.75 540.70,295.14 541.10,295.94 541.50,295.73 541.90,296.24 542.30,296.37 542.70,293.32 543.10,295.94 543.50,293.82 543.90,295.20 544.30,293.36 544.70,294.40 545.10,294.96 545.50,293.75 545.90,293.80 546.30,294.06 546.70,293.38 547.10,293.02 547.50,294.06 547.90,293.53 548.30,292.36 548.70,294.48 549.10,291.41 549.50,292.81 549.90,291.80 550.30,291.97 550.70,292.29 551.10,291.82 551.50,292.04 551.90,290.33 552.30,290.27 552.70,291.80 553.10,290.57 553.50,290.48 553.90,290.12 554.30,292.16 554.70,291.76 555.10,292.31 555.50,290.52 555.90,291.25 556.30,290.44 556.70,291.92 557.10,292.60 557.50,290.81 557.90,292.73 558.30,292.40 558.70,291.63 559.10,290.39 559.50,293.05 559.90,292.06 560.30,291.82 560.70,292.72 561.10,292.88 561.50,293.86 561.90,292.15 562.30,293.94 562.70,294.39 563.10,294.55 563.50,293.52 563.90,293.30 564.30,294.82 564.70,294.35 565.10,294.57 565.50,295.76 565.90,294.70 566.30,293.40 566.70,295.04 567.10,294.16 567.50,296.38 567.90,296.22 568.30,295.74 568.70,296.41 569.10,297.25 569.50,296.90 569.90,298.04 570.30,297.20 570.70,298.22 571.10,298.75 571.50,299.03 571.90,297.50 572.30,298.84 572.70,296.94 573.10,297.70 573.50,297.20 573.90,299.63 574.30,298.05 574.70,299.11 575.10,299.11 575.50,299.37 575.90,299.07 576.30,299.81 576.70,301.09 577.10,299.89 577.50,300.36 577.90,300.81 578.30,300 578.70,299.29 579.10,299.90 579.50,301.20 579.90,299.23 580.30,300.08 580.70,301.34 581.10,301.24 581.50,300.70 581.90,301.34 582.30,300.90 582.70,299.93 583.10,299.67 583.50,300.39 583.90,301.58 584.30,300.48 584.70,300.24 585.10,300.35 585.50,299.79 585.90,300.85 586.30,300.05 586.70,301.20 587.10,299.15 587.50,301.16 587.90,300.42 588.30,299.42 588.70,301.40 589.10,300.63 589.50,299.14 589.90,300.13 590.30,300.99 590.70,300.41 591.10,301.32 591.50,301.27 591.90,301.19 592.30,300.91 592.70,301.64 593.10,301.10 593.50,300.92 593.90,298.99 594.30,301.19 594.70,301.46 595.10,300.23 595.50,300.06 595.90,301.83 596.30,299.02 596.70,300.66 597.10,302.09 597.50,299.54 597.90,300.72 598.30,301.59 598.70,300.05 599.10,300.53 599.50,300.75 599.90,299.37 600.30,299.96 600.70,300.22 601.10,300.60 601.50,299.93 601.90,299.79 602.30,299.16 602.70,299.64 603.10,300.57 603.50,299.98 603.90,299.26 604.30,299.27 604.70,301.90 605.10,300.76 605.50,300.40 605.90,297.99 606.30,300.42 606.70,300.33 607.10,301.26 607.50,300.35 607.90,300.01 608.30,300.48 608.70,298.67 609.10,300.95 609.50,300.46 609.90,299.73 610.30,301.30 610.70,301.72 611.10,299.36 611.50,299.97 611.90,300.74 612.30,300.72 612.70,300.35 613.10,299.98 613.50,302.36 613.90,301.61 614.30,300 614.70,299.95 615.10,302.31 615.50,301.84 615.90,302.52 616.30,301.83 616.70,300.63 617.10,301.55 617.50,299.79 617.90,300.91 618.30,301.49 618.70,301.99 619.10,301.11 619.50,301.61 619.90,302.10 620.30,302.11 620.70,302.39 621.10,302.14 621.50,301.82 621.90,302.74 622.30,302.27 622.70,301.69 623.10,301.93 623.50,302.48 623.90,302.49 624.30,302.77 624.70,302.74 625.10,302.96 625.50,302.82 625.90,302.06 626.30,303.41 626.70,303.97 627.10,303.59 627.50,303.21 627.90,303.77 628.30,302.80 628.70,302.18 629.10,303.73 629.50,303.08 629.90,304.41 630.30,303.12 630.70,302.05 631.10,303.32 631.50,305.36 631.90,303.97 632.30,303.30 632.70,303.83 633.10,304.87 633.50,304.92 633.90,304.75 634.30,305.80 634.70,305.28 635.10,304.80 635.50,305.32 635.90,306.18 636.30,305.72 636.70,305.82 637.10,304.29 637.50,305.04 637.90,305.74 638.30,305.02 638.70,306.08 639.10,305.77 639.50,306.04 639.90,305.23 640.30,307.33 640.70,306.38 641.10,305.33 641.50,305.60 641.90,307.52 642.30,305.37 642.70,306.33 643.10,306.46 643.50,305.78 643.90,304.96 644.30,306.03 644.70,306.22 645.10,306.85 645.50,306.66 645.90,306.15 646.30,306.84 646.70,306.67 647.10,306.49 647.50,306.44 647.90,306.29 648.30,307.06 648.70,305.83 649.10,306.22 649.50,306.77 649.90,305.75 650.30,306.59 650.70,305.49 651.10,306.56 651.50,307.58 651.90,307.66 652.30,307.27 652.70,307.22 653.10,306.41 653.50,308.92 653.90,308.02 654.30,308.53 654.70,307.12 655.10,307.73 655.50,306.58 655.90,308.61 656.30,308.80 656.70,306.75 657.10,308.21 657.50,308.80 657.90,307.08 658.30,307.10 658.70,307.74 659.10,308.14 659.50,307.63 659.90,308.77 660.30,309 660.70,309.36 661.10,309.47 661.50,310.13 661.90,309.94 662.30,308.14 662.70,308.80 663.10,308.44 663.50,308.48 663.90,309.28 664.30,309.39 664.70,309.80 665.10,308.28 665.50,308.58 665.90,309.53" fill="none" stroke="#000000" stroke-width="1.45" stroke-linejoin="round"/>
<polyline points="474.30,321.97 474.70,321.97 475.10,322.05 475.50,321.93 475.90,322.28 476.30,322.23 476.70,322.17 477.10,322.07 477.50,322.22 477.90,321.70 478.30,322.12 478.70,322.38 479.10,322.08 479.50,322.50 479.90,322.53 480.30,322.24 480.70,322.54 481.10,322.57 481.50,322.79 481.90,322.87 482.30,322.78 482.70,322.65 483.10,322.85 483.50,322.92 483.90,323.15 484.30,323.10 484.70,322.93 485.10,322.85 485.50,323.12 485.90,323.09 486.30,323.06 486.70,323.33 487.10,323.31 487.50,323.49 487.90,323.64 488.30,323.48 488.70,324.14 489.10,323.61 489.50,323.98 489.90,323.81 490.30,324.08 490.70,323.37 491.10,323.78 491.50,324.05 491.90,324.17 492.30,324.60 492.70,324.21 493.10,324.47 493.50,324.40 493.90,324.48 494.30,324.43 494.70,324.33 495.10,324.52 495.50,324.21 495.90,324.75 496.30,324.30 496.70,324.62 497.10,325.06 497.50,324.58 497.90,324.67 498.30,324.95 498.70,324.73 499.10,324.57 499.50,324.83 499.90,324.92 500.30,324.97 500.70,324.66 501.10,325.24 501.50,325.24 501.90,324.91 502.30,324.99 502.70,324.86 503.10,325.30 503.50,324.86 503.90,325.19 504.30,324.97 504.70,324.96 505.10,325.31 505.50,325.48 505.90,325.22 506.30,325.11 506.70,325.47 507.10,325.32 507.50,325.44 507.90,325.75 508.30,325.71 508.70,325.38 509.10,326.04 509.50,325.58 509.90,325.80 510.30,325.53 510.70,325.70 511.10,325.37 511.50,326.19 511.90,326.14 512.30,325.62 512.70,325.60 513.10,325.62 513.50,326.27 513.90,325.96 514.30,326.09 514.70,326.07 515.10,326.16 515.50,325.98 515.90,326.27 516.30,325.99 516.70,326.33 517.10,326.45 517.50,326.52 517.90,326.40 518.30,326.29 518.70,326.56 519.10,326.45 519.50,326.93 519.90,326.78 520.30,326.62 520.70,326.57 521.10,326.54 521.50,326.52 521.90,326.67 522.30,326.83 522.70,326.90 523.10,326.93 523.50,327.26 523.90,326.65 524.30,326.81 524.70,327.42 525.10,326.40 525.50,326.70 525.90,326.86 526.30,326.85 526.70,326.91 527.10,326.77 527.50,326.91 527.90,326.84 528.30,327.01 528.70,326.42 529.10,326.65 529.50,326.84 529.90,326.62 530.30,326.62 530.70,326.99 531.10,326.71 531.50,326.99 531.90,327.01 532.30,326.92 532.70,326.96 533.10,326.82 533.50,326.53 533.90,326.82 534.30,326.92 534.70,326.69 535.10,326.77 535.50,326.94 535.90,326.56 536.30,326.87 536.70,327.11 537.10,326.55 537.50,326.66 537.90,326.55 538.30,326.87 538.70,326.55 539.10,326.61 539.50,326.18 539.90,326.24 540.30,326.15 540.70,325.65 541.10,326.24 541.50,325.99 541.90,325.26 542.30,325.64 542.70,325.28 543.10,325.21 543.50,324.99 543.90,324.35 544.30,324.40 544.70,324.51 545.10,323.78 545.50,323.39 545.90,323.01 546.30,322.72 546.70,322.72 547.10,322.67 547.50,322.02 547.90,321.60 548.30,321.65 548.70,320.65 549.10,320.21 549.50,320.07 549.90,319.67 550.30,318.91 550.70,318.47 551.10,318.39 551.50,317.99 551.90,317.27 552.30,317.15 552.70,316.73 553.10,316.62 553.50,316.19 553.90,315.92 554.30,315.61 554.70,315.70 555.10,315.59 555.50,315.05 555.90,315.20 556.30,314.77 556.70,314.90 557.10,315.05 557.50,315.25 557.90,314.90 558.30,315.07 558.70,315.27 559.10,315.08 559.50,315.62 559.90,315.71 560.30,316.21 560.70,316.17 561.10,316.30 561.50,317.08 561.90,317.49 562.30,317.69 562.70,318.39 563.10,318.53 563.50,318.87 563.90,319.51 564.30,319.47 564.70,320.08 565.10,320.63 565.50,321.23 565.90,321.40 566.30,321.89 566.70,322.05 567.10,322.62 567.50,323.27 567.90,323.09 568.30,324.08 568.70,323.71 569.10,324.14 569.50,324.45 569.90,324.88 570.30,324.62 570.70,324.65 571.10,325.44 571.50,325.67 571.90,325.80 572.30,326.40 572.70,326.01 573.10,326.15 573.50,326.41 573.90,326.39 574.30,326.77 574.70,326.21 575.10,326.48 575.50,325.86 575.90,326.86 576.30,326.65 576.70,326.98 577.10,327.28 577.50,326.84 577.90,326.82 578.30,326.78 578.70,326.73 579.10,326.79 579.50,327.09 579.90,326.96 580.30,326.98 580.70,326.94 581.10,327.18 581.50,327.09 581.90,326.95 582.30,327.13 582.70,326.96 583.10,326.74 583.50,327.31 583.90,327.09 584.30,326.77 584.70,327.22 585.10,327.06 585.50,326.63 585.90,327.33 586.30,327.04 586.70,327.15 587.10,326.98 587.50,326.89 587.90,326.57 588.30,327.11 588.70,326.88 589.10,326.79 589.50,326.91 589.90,326.83 590.30,326.94 590.70,326.68 591.10,326.72 591.50,326.23 591.90,326.58 592.30,326.78 592.70,326.89 593.10,326.48 593.50,326.49 593.90,326.82 594.30,326.36 594.70,326.54 595.10,326.70 595.50,326.28 595.90,326.49 596.30,326 596.70,326.14 597.10,326.01 597.50,325.98 597.90,326.13 598.30,326.34 598.70,325.58 599.10,325.52 599.50,325.67 599.90,325.24 600.30,325.50 600.70,325.44 601.10,325.17 601.50,325.26 601.90,324.71 602.30,325.12 602.70,324.52 603.10,324.61 603.50,324.54 603.90,324.47 604.30,324.64 604.70,324.36 605.10,324.15 605.50,324.25 605.90,324.36 606.30,323.91 606.70,323.88 607.10,323.97 607.50,323.65 607.90,323.20 608.30,323.93 608.70,323.77 609.10,322.76 609.50,323.10 609.90,323.11 610.30,323.16 610.70,323.02 611.10,322.75 611.50,322.52 611.90,322.72 612.30,322.88 612.70,322.38 613.10,322.37 613.50,322.57 613.90,322.14 614.30,322.51 614.70,322.48 615.10,322.69 615.50,322.47 615.90,322.46 616.30,322.62 616.70,322.75 617.10,322.67 617.50,322.89 617.90,323.14 618.30,323.32 618.70,323.53 619.10,323.08 619.50,323.27 619.90,322.93 620.30,324.02 620.70,323.56 621.10,323.85 621.50,324.10 621.90,323.82 622.30,324.36 622.70,324.40 623.10,324.14 623.50,324.75 623.90,325.10 624.30,324.57 624.70,325.30 625.10,325.31 625.50,325.51 625.90,325.65 626.30,325.97 626.70,325.77 627.10,326.15 627.50,325.99 627.90,326.37 628.30,326.15 628.70,326.43 629.10,326.95 629.50,326.77 629.90,326.75 630.30,326.63 630.70,326.81 631.10,327.12 631.50,327.37 631.90,327.34 632.30,327.44 632.70,327.40 633.10,327.77 633.50,327.46 633.90,327.49 634.30,327.87 634.70,327.74 635.10,327.72 635.50,327.70 635.90,327.82 636.30,328.06 636.70,328.04 637.10,327.73 637.50,328.13 637.90,328.11 638.30,327.88 638.70,328.30 639.10,328.09 639.50,328.10 639.90,328.37 640.30,328.51 640.70,328.08 641.10,328.35 641.50,328.08 641.90,328.80 642.30,328.20 642.70,328.59 643.10,328.20 643.50,328.54 643.90,328.86 644.30,327.83 644.70,328.31 645.10,328.54 645.50,328.42 645.90,328.31 646.30,328.95 646.70,328.51 647.10,328.15 647.50,328.72 647.90,328.17 648.30,328.82 648.70,328.46 649.10,328.64 649.50,328.90 649.90,328.67 650.30,328.35 650.70,328.31 651.10,328.96 651.50,328.88 651.90,328.56 652.30,328.94 652.70,328.88 653.10,328.93 653.50,328.31 653.90,328.76 654.30,329.05 654.70,329.03 655.10,329.08 655.50,328.36 655.90,328.96 656.30,329.05 656.70,329.52 657.10,328.77 657.50,328.92 657.90,329.02 658.30,329.23 658.70,328.95 659.10,329.32 659.50,328.91 659.90,329.16 660.30,329 660.70,329.16 661.10,328.99 661.50,328.81 661.90,329.41 662.30,329.25 662.70,329.08 663.10,329.26 663.50,329.44 663.90,329.02 664.30,329.22 664.70,329.38 665.10,329.39 665.50,329.21 665.90,328.82" fill="none" stroke="#f0892a" stroke-width="1.45" stroke-linejoin="round"/>
<polyline points="474.30,343.89 474.70,343.63 475.10,343.56 475.50,343.50 475.90,343.69 476.30,343.51 476.70,343.36 477.10,343.48 477.50,343.55 477.90,343.58 478.30,343.45 478.70,344.02 479.10,343.48 479.50,344.11 479.90,343.64 480.30,344.09 480.70,344.44 481.10,344.13 481.50,343.89 481.90,344.17 482.30,344.24 482.70,343.72 483.10,344.11 483.50,344.38 483.90,344.24 484.30,344.45 484.70,344.70 485.10,344.75 485.50,344.84 485.90,344.79 486.30,344.58 486.70,344.71 487.10,344.68 487.50,344.72 487.90,344.80 488.30,344.39 488.70,344.85 489.10,344.99 489.50,344.76 489.90,345.09 490.30,345.30 490.70,345.14 491.10,345.86 491.50,344.50 491.90,345.26 492.30,344.82 492.70,345.70 493.10,346.25 493.50,344.74 493.90,345.57 494.30,345.73 494.70,345.52 495.10,345.81 495.50,345.01 495.90,345.98 496.30,345.86 496.70,345.79 497.10,345.64 497.50,346.04 497.90,345.73 498.30,345.97 498.70,345.78 499.10,345.28 499.50,345.97 499.90,346.06 500.30,346.24 500.70,345.76 501.10,346.03 501.50,346.25 501.90,346.13 502.30,346.48 502.70,346.72 503.10,345.87 503.50,345.60 503.90,346.45 504.30,346.68 504.70,346.53 505.10,346.52 505.50,346.12 505.90,346.12 506.30,346.63 506.70,346.12 507.10,345.88 507.50,346.16 507.90,347.24 508.30,347.10 508.70,346.35 509.10,346.37 509.50,346.70 509.90,346.44 510.30,347.09 510.70,346.71 511.10,346.44 511.50,347.19 511.90,346.66 512.30,346.94 512.70,346.90 513.10,346.84 513.50,347.07 513.90,346.80 514.30,346.49 514.70,346.41 515.10,346.73 515.50,346.91 515.90,347.16 516.30,347.22 516.70,347.40 517.10,347.30 517.50,347.05 517.90,347.11 518.30,346.71 518.70,347.33 519.10,347.55 519.50,347.59 519.90,347.41 520.30,347.42 520.70,347.78 521.10,347.52 521.50,347.76 521.90,347.73 522.30,347.63 522.70,347.98 523.10,347.42 523.50,347.49 523.90,347.35 524.30,347.36 524.70,348.07 525.10,348.13 525.50,347.61 525.90,347.77 526.30,347.95 526.70,347.84 527.10,347.96 527.50,347.22 527.90,347.40 528.30,347.73 528.70,348.02 529.10,347.61 529.50,347.32 529.90,347.46 530.30,347.36 530.70,347.30 531.10,347.99 531.50,347.34 531.90,347.52 532.30,348.14 532.70,347.83 533.10,347.55 533.50,347.24 533.90,347.52 534.30,347.85 534.70,347.52 535.10,347.67 535.50,347.27 535.90,347.35 536.30,347.08 536.70,347.20 537.10,347.40 537.50,346.51 537.90,346.84 538.30,346.84 538.70,346.51 539.10,346.49 539.50,346.71 539.90,346.95 540.30,346.42 540.70,346.19 541.10,345.49 541.50,346.38 541.90,345.67 542.30,345.46 542.70,344.96 543.10,345.09 543.50,344.58 543.90,344.73 544.30,344.63 544.70,344.28 545.10,344.13 545.50,343.55 545.90,343.99 546.30,343.12 546.70,342.51 547.10,342.74 547.50,342.30 547.90,341.96 548.30,341.88 548.70,341.80 549.10,341.09 549.50,341.13 549.90,341.33 550.30,340.84 550.70,340.33 551.10,340.15 551.50,339.83 551.90,339.61 552.30,339.61 552.70,339.14 553.10,338.24 553.50,338.75 553.90,338.31 554.30,338.60 554.70,338.07 555.10,338.16 555.50,338.65 555.90,337.58 556.30,337.48 556.70,337.33 557.10,336.99 557.50,337.13 557.90,337.80 558.30,337.51 558.70,337.18 559.10,337.36 559.50,338.06 559.90,337.74 560.30,337.98 560.70,338.32 561.10,338.77 561.50,339.11 561.90,339.02 562.30,338.94 562.70,339.16 563.10,339.87 563.50,339.98 563.90,339.70 564.30,340.18 564.70,340.39 565.10,340.58 565.50,340.68 565.90,340.70 566.30,341.21 566.70,341.18 567.10,342.29 567.50,342.36 567.90,342.11 568.30,343.15 568.70,343.27 569.10,342.69 569.50,344.07 569.90,344.01 570.30,344.63 570.70,343.88 571.10,344.63 571.50,344.82 571.90,344.96 572.30,345.16 572.70,345.62 573.10,345.04 573.50,345.29 573.90,345.41 574.30,345.82 574.70,345.95 575.10,346.38 575.50,346.48 575.90,346.53 576.30,346.44 576.70,346.61 577.10,347.13 577.50,347.16 577.90,347.05 578.30,347 578.70,347.64 579.10,347.06 579.50,347.49 579.90,347.70 580.30,347.32 580.70,347.69 581.10,347.15 581.50,347.82 581.90,347.61 582.30,347.11 582.70,347.81 583.10,347.36 583.50,348.04 583.90,347.47 584.30,347.64 584.70,347.78 585.10,347.61 585.50,347.80 585.90,347.56 586.30,347.94 586.70,347.74 587.10,347.81 587.50,346.92 587.90,348.10 588.30,347.76 588.70,347.22 589.10,347.78 589.50,347.90 589.90,348.09 590.30,347.45 590.70,348.25 591.10,347.74 591.50,348.51 591.90,347.75 592.30,348 592.70,347.69 593.10,347.47 593.50,348.13 593.90,348.07 594.30,348.26 594.70,348.05 595.10,347.62 595.50,347.29 595.90,347.58 596.30,347.57 596.70,347.51 597.10,347.92 597.50,347.83 597.90,347.63 598.30,347.75 598.70,347.63 599.10,347.71 599.50,347.85 599.90,347.88 600.30,347.36 600.70,347.08 601.10,347.92 601.50,347.48 601.90,347.74 602.30,346.86 602.70,347.21 603.10,347.26 603.50,346.76 603.90,346.98 604.30,347.29 604.70,347.33 605.10,347.41 605.50,346.61 605.90,346.37 606.30,346.87 606.70,346.92 607.10,346.61 607.50,346.08 607.90,346.62 608.30,346.54 608.70,346.38 609.10,345.99 609.50,346.14 609.90,346.20 610.30,345.71 610.70,345.25 611.10,345.82 611.50,345.78 611.90,345.57 612.30,345.76 612.70,345.25 613.10,345.34 613.50,345.21 613.90,345.42 614.30,345.68 614.70,345.08 615.10,345.74 615.50,345.55 615.90,345.30 616.30,345.22 616.70,345.57 617.10,344.98 617.50,345 617.90,344.73 618.30,345.21 618.70,345.50 619.10,345.29 619.50,345.30 619.90,345.16 620.30,345.33 620.70,344.91 621.10,345.72 621.50,345.36 621.90,345.23 622.30,345.42 622.70,345.49 623.10,346.09 623.50,346.25 623.90,345.63 624.30,346.42 624.70,346.52 625.10,346.19 625.50,346.04 625.90,346.37 626.30,346.52 626.70,346.93 627.10,346.84 627.50,346.46 627.90,347.25 628.30,346.84 628.70,347.68 629.10,347.16 629.50,347.43 629.90,347.49 630.30,347.69 630.70,348.34 631.10,348.31 631.50,348.33 631.90,348.34 632.30,347.87 632.70,348.26 633.10,348.34 633.50,348.29 633.90,348.81 634.30,348.51 634.70,348.59 635.10,348.55 635.50,348.31 635.90,349.16 636.30,349.44 636.70,349.14 637.10,348.85 637.50,348.37 637.90,349.28 638.30,349.63 638.70,349.39 639.10,349.62 639.50,349.82 639.90,349.74 640.30,349.30 640.70,349.77 641.10,349.72 641.50,349.05 641.90,349.42 642.30,349.14 642.70,349.56 643.10,349.79 643.50,349.32 643.90,349.05 644.30,350.08 644.70,349.82 645.10,350.17 645.50,349.36 645.90,350.10 646.30,350.42 646.70,350.43 647.10,349.78 647.50,349.95 647.90,349.85 648.30,350.21 648.70,350.25 649.10,349.99 649.50,349.58 649.90,350.23 650.30,349.89 650.70,350.24 651.10,350.15 651.50,350.58 651.90,350.46 652.30,350.01 652.70,350.27 653.10,350.72 653.50,350.05 653.90,350.37 654.30,350.62 654.70,350.66 655.10,350.46 655.50,349.93 655.90,349.97 656.30,350.44 656.70,350.51 657.10,351.18 657.50,350.18 657.90,350.80 658.30,350.71 658.70,350 659.10,350.27 659.50,350.59 659.90,350.41 660.30,350.53 660.70,350.74 661.10,350.37 661.50,350.77 661.90,350.46 662.30,350.50 662.70,350.84 663.10,350.52 663.50,350.80 663.90,351.20 664.30,350.75 664.70,350.71 665.10,350.98 665.50,350.67 665.90,351.11" fill="none" stroke="#ee22ee" stroke-width="1.45" stroke-linejoin="round"/>
<polyline points="474.30,358.32 474.70,359.41 475.10,358.83 475.50,358.71 475.90,360.17 476.30,358.78 476.70,360.27 477.10,359.72 477.50,360.21 477.90,358.94 478.30,360.20 478.70,360.40 479.10,359.60 479.50,359.66 479.90,361.16 480.30,359.98 480.70,359.72 481.10,359.68 481.50,360.35 481.90,360.36 482.30,360.36 482.70,361.29 483.10,360.24 483.50,360.76 483.90,361.39 484.30,360.12 484.70,361.33 485.10,361.85 485.50,360.18 485.90,360.41 486.30,360.53 486.70,360.17 487.10,361.52 487.50,360.34 487.90,361.72 488.30,362.33 488.70,360.73 489.10,361.53 489.50,360.73 489.90,362.30 490.30,361.55 490.70,361.89 491.10,362.15 491.50,362.50 491.90,362.09 492.30,362.37 492.70,362.14 493.10,362.57 493.50,361.94 493.90,362.69 494.30,361.67 494.70,362.53 495.10,363.92 495.50,362.98 495.90,362.30 496.30,363.20 496.70,362.58 497.10,362.26 497.50,362.82 497.90,363.68 498.30,363.54 498.70,363.32 499.10,362.90 499.50,362.86 499.90,364.23 500.30,363.65 500.70,363.02 501.10,362.41 501.50,362.84 501.90,364.99 502.30,363.03 502.70,363.65 503.10,363.85 503.50,363.69 503.90,363.66 504.30,363.10 504.70,363.32 505.10,364.87 505.50,363.58 505.90,364.50 506.30,363.16 506.70,363.99 507.10,364.33 507.50,364.81 507.90,363.67 508.30,364.67 508.70,364.61 509.10,364.04 509.50,364.76 509.90,364.06 510.30,364.17 510.70,364.65 511.10,363.22 511.50,364.70 511.90,364.26 512.30,364.06 512.70,364.68 513.10,365.38 513.50,364.78 513.90,365.75 514.30,364.46 514.70,364.42 515.10,366.04 515.50,365.44 515.90,365.78 516.30,364.85 516.70,365.78 517.10,365.51 517.50,365.76 517.90,365.44 518.30,366.12 518.70,365.12 519.10,364.97 519.50,364.69 519.90,366.14 520.30,365.10 520.70,364.93 521.10,364.99 521.50,365.26 521.90,364.81 522.30,365.35 522.70,365.17 523.10,365.21 523.50,364.99 523.90,365.54 524.30,365.26 524.70,365.58 525.10,365.66 525.50,365.71 525.90,364.31 526.30,365.22 526.70,365.08 527.10,365.94 527.50,364.64 527.90,365.11 528.30,365.33 528.70,365.30 529.10,366.03 529.50,365.23 529.90,365.99 530.30,364.64 530.70,364.44 531.10,366.09 531.50,365.64 531.90,365.64 532.30,365.42 532.70,365.59 533.10,364.63 533.50,365.78 533.90,364.93 534.30,365.73 534.70,365.19 535.10,364.01 535.50,364.34 535.90,365.61 536.30,364.85 536.70,364.65 537.10,364.93 537.50,364.48 537.90,364.33 538.30,364.60 538.70,364.53 539.10,365.19 539.50,364.27 539.90,365.17 540.30,365.01 540.70,364.83 541.10,364.34 541.50,363.69 541.90,363.55 542.30,363.24 542.70,362.76 543.10,362.95 543.50,362.47 543.90,363.54 544.30,362.75 544.70,362.02 545.10,361.01 545.50,361.84 545.90,361.43 546.30,360.85 546.70,360.61 547.10,359.78 547.50,361.11 547.90,360.54 548.30,361.77 548.70,360.11 549.10,359.82 549.50,360.47 549.90,359.52 550.30,359.32 550.70,358.81 551.10,358.47 551.50,359.41 551.90,358.94 552.30,359.13 552.70,357.81 553.10,357.83 553.50,357.16 553.90,358.01 554.30,356.56 554.70,357.50 555.10,357.66 555.50,357.71 555.90,356.32 556.30,357.34 556.70,356.27 557.10,356.18 557.50,355.82 557.90,357.15 558.30,357.40 558.70,356.16 559.10,356.08 559.50,356.34 559.90,357.95 560.30,357.17 560.70,356.39 561.10,355.78 561.50,356.49 561.90,357.62 562.30,358.12 562.70,357.08 563.10,356.99 563.50,357.24 563.90,356.65 564.30,358.36 564.70,357.45 565.10,358.83 565.50,357.50 565.90,357.95 566.30,359.02 566.70,358.66 567.10,359.73 567.50,359.53 567.90,359.10 568.30,360.32 568.70,360.67 569.10,359.38 569.50,361.66 569.90,361.16 570.30,361.53 570.70,360.31 571.10,361.15 571.50,361.57 571.90,362.56 572.30,361.37 572.70,361.89 573.10,361.46 573.50,362.63 573.90,363.13 574.30,362.19 574.70,362.96 575.10,363.73 575.50,364.48 575.90,364.12 576.30,363.73 576.70,363.39 577.10,363.65 577.50,363.92 577.90,364.49 578.30,364.49 578.70,365.54 579.10,364.87 579.50,364.22 579.90,365.74 580.30,365.49 580.70,365.10 581.10,364.72 581.50,364.15 581.90,364.67 582.30,365.79 582.70,364.90 583.10,364.66 583.50,365.54 583.90,365.60 584.30,365.83 584.70,365.89 585.10,366.33 585.50,365.12 585.90,366.15 586.30,365.08 586.70,366.03 587.10,365.76 587.50,365.81 587.90,366.21 588.30,365.68 588.70,366.31 589.10,366.18 589.50,365.78 589.90,365.39 590.30,365.29 590.70,365.41 591.10,365.59 591.50,365.68 591.90,367.33 592.30,366.03 592.70,366.09 593.10,365.19 593.50,365.26 593.90,365.46 594.30,365.72 594.70,365.03 595.10,366.47 595.50,365.25 595.90,366.13 596.30,364.23 596.70,365.49 597.10,365.61 597.50,365.54 597.90,365.73 598.30,365.52 598.70,365.42 599.10,364.26 599.50,364.88 599.90,363.95 600.30,365.56 600.70,365.35 601.10,365.04 601.50,364.66 601.90,364.75 602.30,366.05 602.70,365.95 603.10,364.92 603.50,365.62 603.90,363.99 604.30,363.75 604.70,364.51 605.10,364.24 605.50,364.37 605.90,364.73 606.30,366.24 606.70,364.16 607.10,364.50 607.50,364.57 607.90,364.35 608.30,364.83 608.70,365.25 609.10,363.54 609.50,364.26 609.90,363.98 610.30,364.27 610.70,363.19 611.10,363.02 611.50,362.68 611.90,364.20 612.30,363.98 612.70,363.89 613.10,362.52 613.50,363.59 613.90,363.36 614.30,362.98 614.70,363.24 615.10,364.11 615.50,364.03 615.90,363.71 616.30,364.01 616.70,363.41 617.10,363.79 617.50,363.79 617.90,364.10 618.30,363.78 618.70,363.77 619.10,363.82 619.50,363.58 619.90,365.21 620.30,364.31 620.70,364.32 621.10,365.41 621.50,364.98 621.90,363.42 622.30,364.73 622.70,364.89 623.10,365.54 623.50,365.31 623.90,365.10 624.30,364.11 624.70,364.37 625.10,365.09 625.50,365.31 625.90,364.56 626.30,365.01 626.70,365.10 627.10,365.45 627.50,365.69 627.90,365.45 628.30,365.02 628.70,366.48 629.10,366.77 629.50,365.93 629.90,366.65 630.30,366.42 630.70,366.63 631.10,366.62 631.50,366.02 631.90,366.84 632.30,367.17 632.70,366.20 633.10,367.85 633.50,368 633.90,367.93 634.30,368.09 634.70,367.47 635.10,366.94 635.50,366.86 635.90,366.81 636.30,367.38 636.70,367.35 637.10,367.79 637.50,366.36 637.90,368.79 638.30,368.82 638.70,367.59 639.10,368.02 639.50,367.95 639.90,367.88 640.30,367.64 640.70,367.73 641.10,367.38 641.50,367.96 641.90,367.88 642.30,368.11 642.70,367.49 643.10,368.02 643.50,368.05 643.90,368.39 644.30,367.51 644.70,368.35 645.10,368.70 645.50,368.52 645.90,368.02 646.30,367.98 646.70,368.15 647.10,368.71 647.50,369.20 647.90,368.29 648.30,368.05 648.70,368.64 649.10,368.58 649.50,368 649.90,368.13 650.30,368.51 650.70,368.96 651.10,367.97 651.50,368.10 651.90,368.96 652.30,368.05 652.70,368.81 653.10,368.98 653.50,368.75 653.90,368.28 654.30,368.84 654.70,368.72 655.10,369.12 655.50,368.50 655.90,369.60 656.30,368.10 656.70,368.96 657.10,369.09 657.50,369.64 657.90,368.81 658.30,369.47 658.70,368.88 659.10,369.63 659.50,370.21 659.90,369.06 660.30,369.55 660.70,368.82 661.10,369.89 661.50,370.04 661.90,369.42 662.30,368.79 662.70,369.66 663.10,370.09 663.50,370.08 663.90,369.95 664.30,368.51 664.70,369.16 665.10,370.33 665.50,368.89 665.90,370.20" fill="none" stroke="#ee1111" stroke-width="1.45" stroke-linejoin="round"/>
<polyline points="474.30,381.06 474.70,380.48 475.10,380.72 475.50,379.97 475.90,379.52 476.30,380.19 476.70,380.19 477.10,380.33 477.50,380.80 477.90,380.39 478.30,380.64 478.70,380.83 479.10,380.66 479.50,381.75 479.90,381.05 480.30,380.92 480.70,380.84 481.10,380.68 481.50,381.84 481.90,381.26 482.30,380.67 482.70,381.03 483.10,381.35 483.50,381.26 483.90,382.18 484.30,381.03 484.70,382.03 485.10,381.92 485.50,381.28 485.90,382.04 486.30,382.05 486.70,382.46 487.10,382.02 487.50,382.52 487.90,381.53 488.30,381.93 488.70,383.05 489.10,383.27 489.50,382.78 489.90,382.54 490.30,383.55 490.70,381.89 491.10,382.68 491.50,383.57 491.90,383.64 492.30,382.79 492.70,382.40 493.10,384.31 493.50,383.67 493.90,383.17 494.30,383.76 494.70,384.29 495.10,382.44 495.50,384.54 495.90,384.40 496.30,382.91 496.70,384.54 497.10,383.19 497.50,384.85 497.90,384.50 498.30,385.56 498.70,384.04 499.10,384.42 499.50,385.03 499.90,384.14 500.30,384.13 500.70,384.33 501.10,384.52 501.50,384 501.90,384.88 502.30,384.95 502.70,384.72 503.10,385.65 503.50,384.57 503.90,385.50 504.30,384.52 504.70,385.27 505.10,383.83 505.50,385.04 505.90,384.88 506.30,384.75 506.70,384.73 507.10,384.92 507.50,384.76 507.90,383.99 508.30,384.92 508.70,384.99 509.10,385.05 509.50,384.81 509.90,385.37 510.30,385.92 510.70,385.40 511.10,385.32 511.50,386.39 511.90,386.23 512.30,386.25 512.70,386.43 513.10,385.67 513.50,385.83 513.90,386.56 514.30,385.70 514.70,385.99 515.10,386.31 515.50,386.36 515.90,386.06 516.30,386.80 516.70,386.21 517.10,386.76 517.50,387 517.90,386.82 518.30,386.91 518.70,385.92 519.10,385.88 519.50,386.31 519.90,386.95 520.30,387.56 520.70,386.11 521.10,386.99 521.50,386.39 521.90,386.50 522.30,386.79 522.70,387.36 523.10,387.13 523.50,387.70 523.90,386.54 524.30,387.61 524.70,387.66 525.10,387.22 525.50,387.47 525.90,386.92 526.30,386.65 526.70,387.05 527.10,386.94 527.50,388.88 527.90,387.03 528.30,388.20 528.70,387.41 529.10,387.47 529.50,387.71 529.90,386.87 530.30,387.80 530.70,387.51 531.10,386.47 531.50,387.63 531.90,387.60 532.30,387.54 532.70,388.16 533.10,387.06 533.50,387.56 533.90,387.68 534.30,386.77 534.70,387.91 535.10,386.44 535.50,386.51 535.90,387.49 536.30,386.59 536.70,387.10 537.10,386.23 537.50,387.15 537.90,386.45 538.30,387.23 538.70,386.16 539.10,387.20 539.50,386.76 539.90,386.89 540.30,386.76 540.70,386.80 541.10,385.93 541.50,385.17 541.90,386.51 542.30,385.89 542.70,386.06 543.10,386.43 543.50,384.99 543.90,385.54 544.30,385.50 544.70,385.11 545.10,385.72 545.50,385.31 545.90,384.77 546.30,384.50 546.70,385.30 547.10,384.30 547.50,384.78 547.90,384.50 548.30,382.99 548.70,383.20 549.10,383.56 549.50,383.51 549.90,383.49 550.30,383.25 550.70,383.11 551.10,382.07 551.50,381.88 551.90,382.14 552.30,381.20 552.70,381.73 553.10,379.99 553.50,380.94 553.90,380.20 554.30,378.93 554.70,380.27 555.10,379.63 555.50,379.20 555.90,378.33 556.30,378.42 556.70,379.26 557.10,377.74 557.50,376.06 557.90,377.29 558.30,376.90 558.70,377.30 559.10,376.99 559.50,376.56 559.90,376.46 560.30,377.38 560.70,375.91 561.10,377.70 561.50,376.26 561.90,375.92 562.30,376.94 562.70,376.81 563.10,375.95 563.50,376.98 563.90,375.61 564.30,376.20 564.70,377.42 565.10,376.78 565.50,376.34 565.90,377.50 566.30,377.89 566.70,377.56 567.10,376.78 567.50,377.80 567.90,378.45 568.30,378.88 568.70,379.73 569.10,378.83 569.50,378.97 569.90,379.49 570.30,380.45 570.70,379.56 571.10,381.08 571.50,379.14 571.90,381.38 572.30,380.87 572.70,381.78 573.10,382.20 573.50,381.45 573.90,382.34 574.30,382.79 574.70,383.26 575.10,382.69 575.50,382.91 575.90,382.65 576.30,385.35 576.70,384.08 577.10,384.30 577.50,383.81 577.90,385.36 578.30,384.75 578.70,386.03 579.10,385.89 579.50,385.61 579.90,386.16 580.30,385.31 580.70,385.89 581.10,385.89 581.50,385.64 581.90,386.47 582.30,386.49 582.70,387.47 583.10,384.93 583.50,386.50 583.90,386.45 584.30,386.78 584.70,387.34 585.10,387.39 585.50,387.25 585.90,387.03 586.30,387.61 586.70,387.59 587.10,386.42 587.50,387.33 587.90,386.75 588.30,386.89 588.70,387.65 589.10,387.62 589.50,387.68 589.90,387.15 590.30,387.54 590.70,387.17 591.10,387.89 591.50,388.07 591.90,388.67 592.30,388.41 592.70,387.28 593.10,387.48 593.50,387.22 593.90,387.91 594.30,388.83 594.70,388.13 595.10,386.53 595.50,387.05 595.90,387.02 596.30,388.01 596.70,387.73 597.10,387.88 597.50,388.70 597.90,387.26 598.30,387.25 598.70,388.79 599.10,387.89 599.50,387.27 599.90,386.57 600.30,386.84 600.70,386.32 601.10,387.69 601.50,387.65 601.90,388.15 602.30,387.51 602.70,387.17 603.10,387.12 603.50,388.54 603.90,386.48 604.30,387.50 604.70,387.38 605.10,387.65 605.50,387.03 605.90,387.47 606.30,387.58 606.70,386.98 607.10,386.74 607.50,386.81 607.90,386.30 608.30,386.63 608.70,386.49 609.10,386.68 609.50,387.21 609.90,387.09 610.30,386.02 610.70,386.50 611.10,386.22 611.50,386.37 611.90,385.86 612.30,385.88 612.70,385.37 613.10,385.09 613.50,385.90 613.90,386.04 614.30,385.59 614.70,385.37 615.10,385.19 615.50,384.71 615.90,383.90 616.30,385.18 616.70,384.86 617.10,384.39 617.50,384.12 617.90,385.31 618.30,383.59 618.70,385.53 619.10,384.91 619.50,385.86 619.90,384.18 620.30,384.59 620.70,384.35 621.10,384.76 621.50,384.61 621.90,384.38 622.30,385.46 622.70,384.52 623.10,384.76 623.50,385.45 623.90,384.95 624.30,385.12 624.70,385.68 625.10,385.41 625.50,385.06 625.90,385.82 626.30,385.90 626.70,387.10 627.10,385.70 627.50,386.98 627.90,386.16 628.30,386.54 628.70,386.70 629.10,387.18 629.50,387.65 629.90,388.27 630.30,387.10 630.70,388.31 631.10,388.26 631.50,388.28 631.90,387.54 632.30,388.57 632.70,388.13 633.10,388.49 633.50,388.25 633.90,388.86 634.30,389.20 634.70,389.30 635.10,388.64 635.50,389.38 635.90,389.71 636.30,388.46 636.70,389.85 637.10,388.37 637.50,389.45 637.90,389.53 638.30,390.07 638.70,389.45 639.10,389.07 639.50,388.94 639.90,388.72 640.30,389.86 640.70,389.35 641.10,389.12 641.50,389.84 641.90,389.16 642.30,389.37 642.70,389.39 643.10,390.58 643.50,390.51 643.90,389.65 644.30,388.90 644.70,389.95 645.10,389.87 645.50,390.05 645.90,390.20 646.30,389.75 646.70,390.46 647.10,390.45 647.50,390.13 647.90,389.83 648.30,389.82 648.70,390.50 649.10,389.54 649.50,390.09 649.90,389.80 650.30,389.48 650.70,390.61 651.10,390.30 651.50,390.37 651.90,390.87 652.30,389.60 652.70,390.42 653.10,390.65 653.50,390.98 653.90,389.96 654.30,390.98 654.70,390.74 655.10,391.40 655.50,391.32 655.90,391.03 656.30,391.94 656.70,390.79 657.10,390.59 657.50,390.67 657.90,390.37 658.30,390.90 658.70,389.91 659.10,390.93 659.50,391.24 659.90,391.58 660.30,390.87 660.70,391.86 661.10,390.76 661.50,391.07 661.90,390.14 662.30,390.78 662.70,390.79 663.10,392.05 663.50,391.55 663.90,390.69 664.30,391.59 664.70,391.59 665.10,391.22 665.50,391.37 665.90,391.21" fill="none" stroke="#1a1ad8" stroke-width="1.45" stroke-linejoin="round"/>
<polyline points="474.30,394.75 474.70,393.72 475.10,395.25 475.50,396.51 475.90,396.69 476.30,395.25 476.70,394.90 477.10,395.43 477.50,396.48 477.90,396.07 478.30,395.32 478.70,396.23 479.10,395.80 479.50,396.52 479.90,395.79 480.30,394.94 480.70,396.37 481.10,397.08 481.50,395.53 481.90,396.50 482.30,397.45 482.70,396.45 483.10,396.30 483.50,398.75 483.90,397.80 484.30,398.07 484.70,396.44 485.10,398.80 485.50,396.02 485.90,397.12 486.30,398.32 486.70,398.94 487.10,397.06 487.50,397.40 487.90,398.25 488.30,396.49 488.70,398.84 489.10,398.87 489.50,398.09 489.90,399.05 490.30,399.36 490.70,399.05 491.10,399.33 491.50,400.29 491.90,398.65 492.30,399.30 492.70,398.79 493.10,400.24 493.50,399.07 493.90,399.92 494.30,399.71 494.70,399.73 495.10,401.25 495.50,399.76 495.90,401.14 496.30,400.70 496.70,401.20 497.10,399.97 497.50,400.98 497.90,400.90 498.30,399.76 498.70,400.58 499.10,400.29 499.50,400.42 499.90,401.62 500.30,399.90 500.70,399.10 501.10,399.09 501.50,400.25 501.90,400.13 502.30,400.76 502.70,401.29 503.10,402.38 503.50,401.17 503.90,401.36 504.30,400.38 504.70,401.59 505.10,402.33 505.50,402.38 505.90,399.59 506.30,402.13 506.70,402.80 507.10,402.22 507.50,400.28 507.90,401.38 508.30,402.23 508.70,402.16 509.10,401.18 509.50,401.19 509.90,402.88 510.30,400.97 510.70,403.45 511.10,402.31 511.50,402.64 511.90,401.30 512.30,402.03 512.70,403.23 513.10,401.44 513.50,404.59 513.90,401.67 514.30,401.91 514.70,403.09 515.10,403.55 515.50,403.86 515.90,402.98 516.30,403.21 516.70,403.26 517.10,403.05 517.50,401.40 517.90,404.54 518.30,404 518.70,404 519.10,403.40 519.50,404.23 519.90,404.08 520.30,404.09 520.70,405.18 521.10,402.81 521.50,404.58 521.90,403.50 522.30,404.21 522.70,405.84 523.10,403.66 523.50,404.57 523.90,404.20 524.30,405.58 524.70,403.95 525.10,403.39 525.50,405.33 525.90,404.61 526.30,404.68 526.70,405.91 527.10,404.23 527.50,404.67 527.90,405.11 528.30,405.33 528.70,404.51 529.10,405.84 529.50,406.87 529.90,404.57 530.30,406.52 530.70,403.07 531.10,406.09 531.50,404.56 531.90,404.95 532.30,404.52 532.70,404.23 533.10,403.65 533.50,404.39 533.90,405.82 534.30,405.65 534.70,404.33 535.10,404.13 535.50,403.94 535.90,403.47 536.30,406.02 536.70,404.98 537.10,404.46 537.50,403.87 537.90,403.36 538.30,405.31 538.70,404.78 539.10,403.22 539.50,404.82 539.90,402.93 540.30,404.36 540.70,402.89 541.10,403.27 541.50,403.97 541.90,403.82 542.30,404.22 542.70,402.51 543.10,404.49 543.50,404.18 543.90,402.89 544.30,403.18 544.70,401.98 545.10,402.40 545.50,401.26 545.90,402.34 546.30,402.30 546.70,403.15 547.10,402.66 547.50,402.40 547.90,401.24 548.30,401.21 548.70,400.95 549.10,401.29 549.50,399.27 549.90,401.45 550.30,399.27 550.70,400.03 551.10,400.33 551.50,399.72 551.90,401.44 552.30,399.77 552.70,401.06 553.10,400.56 553.50,398.97 553.90,399.60 554.30,400.24 554.70,398.69 555.10,398.92 555.50,398.23 555.90,398.64 556.30,398.16 556.70,398.43 557.10,399.11 557.50,399.35 557.90,398.17 558.30,398.14 558.70,398.62 559.10,397.56 559.50,396.83 559.90,398.64 560.30,396.82 560.70,398.39 561.10,396.72 561.50,399.10 561.90,396.60 562.30,398.23 562.70,398.79 563.10,396.67 563.50,398.80 563.90,396.83 564.30,396.05 564.70,398.24 565.10,398.27 565.50,397.55 565.90,395.61 566.30,397.82 566.70,397.68 567.10,397.71 567.50,397.88 567.90,396.69 568.30,397.85 568.70,400.01 569.10,399.92 569.50,398.39 569.90,398.22 570.30,399.32 570.70,400.03 571.10,399.88 571.50,398.39 571.90,399.69 572.30,399.83 572.70,401.10 573.10,401.05 573.50,400.63 573.90,401.38 574.30,400.15 574.70,401.98 575.10,400.44 575.50,401.31 575.90,401.92 576.30,400.49 576.70,400.83 577.10,400.07 577.50,401.88 577.90,401.84 578.30,401.75 578.70,402.61 579.10,400.49 579.50,402.43 579.90,402.66 580.30,402.49 580.70,403.53 581.10,404.48 581.50,402.70 581.90,402.39 582.30,402.79 582.70,403.50 583.10,404.03 583.50,402.88 583.90,404.59 584.30,402.93 584.70,404.62 585.10,404.36 585.50,404.47 585.90,406.01 586.30,403.99 586.70,404.15 587.10,404.77 587.50,405.17 587.90,403.32 588.30,404.77 588.70,403.95 589.10,405.18 589.50,405.87 589.90,404.77 590.30,404.68 590.70,404.97 591.10,402.29 591.50,405.55 591.90,405.40 592.30,405.09 592.70,404.63 593.10,404.37 593.50,404.87 593.90,406.09 594.30,404.97 594.70,406.25 595.10,402.88 595.50,404.73 595.90,405.38 596.30,405.15 596.70,403.75 597.10,404.63 597.50,406.30 597.90,404.13 598.30,404.40 598.70,404.33 599.10,404.82 599.50,405.87 599.90,405.84 600.30,403.59 600.70,406.62 601.10,404.86 601.50,404.88 601.90,406.84 602.30,405.35 602.70,404.36 603.10,404.89 603.50,404.83 603.90,404.60 604.30,405.20 604.70,406.26 605.10,405.82 605.50,404.33 605.90,407.95 606.30,404.70 606.70,405.67 607.10,405.61 607.50,406.25 607.90,405.32 608.30,406.01 608.70,407.45 609.10,405.73 609.50,404.72 609.90,405.95 610.30,404.99 610.70,405.37 611.10,405.87 611.50,406.01 611.90,405.48 612.30,406.47 612.70,405.58 613.10,404.63 613.50,406.53 613.90,405.47 614.30,406.84 614.70,405.24 615.10,406.31 615.50,406.09 615.90,403.50 616.30,404.55 616.70,404.88 617.10,407.07 617.50,404.23 617.90,406.66 618.30,406.82 618.70,406.31 619.10,406.47 619.50,405.47 619.90,405.89 620.30,406.11 620.70,406.30 621.10,406.58 621.50,405.82 621.90,405.42 622.30,405.57 622.70,406.45 623.10,404.70 623.50,405.09 623.90,405.85 624.30,405.77 624.70,406.06 625.10,404.04 625.50,406.09 625.90,406.21 626.30,407.15 626.70,404.82 627.10,406.31 627.50,407.04 627.90,407.10 628.30,407.76 628.70,407.69 629.10,405.93 629.50,407.43 629.90,406.65 630.30,406.30 630.70,408.37 631.10,406.55 631.50,406.41 631.90,406.84 632.30,406.51 632.70,408.17 633.10,407.68 633.50,408.61 633.90,407.80 634.30,406.96 634.70,408.45 635.10,407.02 635.50,407.23 635.90,407.53 636.30,407.75 636.70,408.78 637.10,407.26 637.50,408.13 637.90,407.83 638.30,406.80 638.70,406.97 639.10,407.76 639.50,408.32 639.90,408.27 640.30,408.43 640.70,408.09 641.10,407.69 641.50,408.48 641.90,407.27 642.30,407.01 642.70,407.93 643.10,407.02 643.50,407.85 643.90,407.69 644.30,407.90 644.70,408.39 645.10,407.78 645.50,408.16 645.90,407.09 646.30,408.75 646.70,407.92 647.10,409.08 647.50,406.34 647.90,408.15 648.30,409.11 648.70,406.84 649.10,408.70 649.50,409.16 649.90,409.22 650.30,407.90 650.70,409.46 651.10,409.45 651.50,408.53 651.90,410.09 652.30,409.46 652.70,409.58 653.10,409.24 653.50,410.16 653.90,409.84 654.30,410.80 654.70,410.27 655.10,409.40 655.50,409.80 655.90,410.86 656.30,409.80 656.70,410.51 657.10,410.69 657.50,410.14 657.90,408.33 658.30,410.53 658.70,410.66 659.10,410.64 659.50,409.92 659.90,411.68 660.30,410.57 660.70,410.19 661.10,410.16 661.50,411.15 661.90,409.93 662.30,410.06 662.70,412.71 663.10,412.15 663.50,411.97 663.90,412.28 664.30,411.65 664.70,409.70 665.10,412.24 665.50,412.31 665.90,411.69" fill="none" stroke="#178a17" stroke-width="1.45" stroke-linejoin="round"/>
<polyline points="474.30,413.42 474.70,416.10 475.10,416.25 475.50,414.78 475.90,415.35 476.30,415.94 476.70,415.30 477.10,416.34 477.50,415.57 477.90,416.15 478.30,415.73 478.70,414.52 479.10,415 479.50,418.51 479.90,416.21 480.30,417.15 480.70,417.10 481.10,417.67 481.50,416.80 481.90,415.95 482.30,416.55 482.70,415.06 483.10,416.58 483.50,417.58 483.90,415.16 484.30,417.20 484.70,417.82 485.10,418.34 485.50,416.59 485.90,416.92 486.30,416.02 486.70,416.83 487.10,418.22 487.50,419.59 487.90,417.04 488.30,419.23 488.70,418.55 489.10,417.89 489.50,420.22 489.90,416.43 490.30,418.56 490.70,418.89 491.10,420.57 491.50,420.40 491.90,420.88 492.30,419.22 492.70,420.01 493.10,420.42 493.50,419.81 493.90,419.77 494.30,419.41 494.70,419.31 495.10,418.71 495.50,421.42 495.90,419.51 496.30,418.24 496.70,420.25 497.10,420.07 497.50,420.31 497.90,421.73 498.30,420.20 498.70,420.12 499.10,419.78 499.50,420.43 499.90,420.13 500.30,420.69 500.70,423.14 501.10,420.92 501.50,419.93 501.90,422.28 502.30,421.44 502.70,421.45 503.10,421.42 503.50,421.56 503.90,421.49 504.30,422.15 504.70,421.88 505.10,422.22 505.50,420.75 505.90,421.23 506.30,420.69 506.70,422.15 507.10,422.11 507.50,421.11 507.90,422.05 508.30,423.81 508.70,422.73 509.10,420.86 509.50,421.78 509.90,422.45 510.30,421.98 510.70,422.40 511.10,423.14 511.50,422.51 511.90,421.41 512.30,422.99 512.70,422.40 513.10,422.65 513.50,422.17 513.90,421.58 514.30,421.77 514.70,422.59 515.10,422.08 515.50,420.80 515.90,424.08 516.30,422.25 516.70,422.70 517.10,423.82 517.50,421.46 517.90,424.65 518.30,422.99 518.70,424.25 519.10,423.38 519.50,424.11 519.90,424.03 520.30,424.02 520.70,422.58 521.10,422.95 521.50,424.21 521.90,425.49 522.30,423.94 522.70,424.91 523.10,424.67 523.50,425.01 523.90,425.50 524.30,423.50 524.70,425.03 525.10,424.72 525.50,424.67 525.90,424.29 526.30,424.40 526.70,424.26 527.10,424.26 527.50,427.30 527.90,426.68 528.30,425.33 528.70,425.98 529.10,424.60 529.50,423.15 529.90,423.98 530.30,425.64 530.70,426.75 531.10,425.55 531.50,424.76 531.90,425.38 532.30,424.76 532.70,424.43 533.10,425.39 533.50,425.25 533.90,424.90 534.30,424.84 534.70,424.80 535.10,425.76 535.50,426.71 535.90,425.38 536.30,427.40 536.70,424.20 537.10,425.76 537.50,424.57 537.90,425.38 538.30,425.59 538.70,425.96 539.10,426.42 539.50,425.01 539.90,424.43 540.30,425.28 540.70,425.67 541.10,424.82 541.50,426.12 541.90,426.75 542.30,424.15 542.70,425.60 543.10,426.12 543.50,423.65 543.90,425.38 544.30,424.98 544.70,423.95 545.10,426.17 545.50,425.22 545.90,424.59 546.30,425.30 546.70,425.41 547.10,425.45 547.50,425.23 547.90,425.02 548.30,423.63 548.70,424.18 549.10,424.56 549.50,422.08 549.90,426.05 550.30,423.87 550.70,423.21 551.10,422.48 551.50,424.09 551.90,423.80 552.30,423.17 552.70,423.19 553.10,422.68 553.50,422.66 553.90,423.07 554.30,422.48 554.70,423.44 555.10,422.62 555.50,422.70 555.90,422.78 556.30,423.34 556.70,422.64 557.10,422.17 557.50,421.69 557.90,421 558.30,421.22 558.70,421.91 559.10,421.37 559.50,420.70 559.90,419.76 560.30,419.43 560.70,420.81 561.10,421.24 561.50,420.55 561.90,418.95 562.30,419.77 562.70,419.98 563.10,418.90 563.50,419.82 563.90,419.23 564.30,418.59 564.70,418.14 565.10,419.73 565.50,419.25 565.90,418.12 566.30,417.93 566.70,419.43 567.10,419.12 567.50,418.31 567.90,419.83 568.30,418.23 568.70,417.57 569.10,419.32 569.50,418.25 569.90,418.69 570.30,418.44 570.70,417.59 571.10,417.46 571.50,418.31 571.90,419.68 572.30,417.73 572.70,419.75 573.10,418.88 573.50,417.85 573.90,419.08 574.30,419.42 574.70,418.31 575.10,417.40 575.50,419.57 575.90,418.48 576.30,419.89 576.70,418.07 577.10,419.68 577.50,419.27 577.90,418.86 578.30,420.03 578.70,420.52 579.10,420.08 579.50,419.72 579.90,421.03 580.30,419.57 580.70,421.62 581.10,421.74 581.50,422.88 581.90,422.38 582.30,422.10 582.70,422.19 583.10,422.15 583.50,421.18 583.90,423.64 584.30,423.01 584.70,422.48 585.10,421.92 585.50,424.23 585.90,423.57 586.30,422.29 586.70,423.95 587.10,425.08 587.50,423.62 587.90,424.08 588.30,423.52 588.70,423.45 589.10,424.95 589.50,426.71 589.90,424.35 590.30,424.24 590.70,425.09 591.10,424.26 591.50,425.19 591.90,425.34 592.30,423.89 592.70,423.91 593.10,424.79 593.50,425.60 593.90,425.19 594.30,426.04 594.70,423.92 595.10,425.51 595.50,424.63 595.90,425.26 596.30,425.48 596.70,424.45 597.10,425.09 597.50,424.35 597.90,425.55 598.30,424.65 598.70,424.97 599.10,425.58 599.50,424.88 599.90,426.38 600.30,424.92 600.70,426.16 601.10,425.71 601.50,424.63 601.90,425.32 602.30,424.82 602.70,425.22 603.10,425.30 603.50,427.03 603.90,425.20 604.30,426.85 604.70,425.94 605.10,424.50 605.50,423.69 605.90,426.16 606.30,423.97 606.70,426.22 607.10,426.48 607.50,425.97 607.90,425.48 608.30,425.46 608.70,425.89 609.10,425.44 609.50,425.25 609.90,425.40 610.30,426.68 610.70,425.21 611.10,426.05 611.50,424.80 611.90,425.17 612.30,424.63 612.70,425.61 613.10,426.34 613.50,426.04 613.90,425.39 614.30,426.31 614.70,425.53 615.10,426.13 615.50,426.06 615.90,426.29 616.30,423.81 616.70,424.78 617.10,426.50 617.50,425.78 617.90,427.72 618.30,425.69 618.70,425.43 619.10,427.12 619.50,426.35 619.90,427.46 620.30,426.34 620.70,425.78 621.10,426.58 621.50,425.37 621.90,425.70 622.30,425.65 622.70,425.97 623.10,426.84 623.50,425.85 623.90,426.56 624.30,425.94 624.70,427.13 625.10,424.20 625.50,426.35 625.90,426.72 626.30,425.76 626.70,427.54 627.10,426.95 627.50,427.89 627.90,427.69 628.30,427.49 628.70,426.91 629.10,426.21 629.50,426.98 629.90,426.86 630.30,427.51 630.70,426.99 631.10,429.95 631.50,426.19 631.90,428.53 632.30,427.25 632.70,427.50 633.10,428.52 633.50,427.83 633.90,426.89 634.30,428.29 634.70,427.85 635.10,426.38 635.50,428.28 635.90,427.31 636.30,427.62 636.70,428.68 637.10,428.57 637.50,428.13 637.90,430.20 638.30,428.80 638.70,427.99 639.10,428.73 639.50,428.46 639.90,426.78 640.30,427.33 640.70,427.50 641.10,430.37 641.50,428.55 641.90,428.51 642.30,428.31 642.70,429.61 643.10,428.87 643.50,430.29 643.90,429.58 644.30,430.32 644.70,428.92 645.10,429.37 645.50,428.76 645.90,429.02 646.30,427.79 646.70,428.78 647.10,428.53 647.50,428.83 647.90,430.42 648.30,429.69 648.70,430.53 649.10,430.29 649.50,430.40 649.90,430.52 650.30,429.26 650.70,430.48 651.10,429.61 651.50,429.50 651.90,430.98 652.30,431.83 652.70,429.32 653.10,431.60 653.50,430.92 653.90,429.60 654.30,430.58 654.70,430.72 655.10,430.79 655.50,430.25 655.90,429.54 656.30,430.68 656.70,431.42 657.10,431.41 657.50,431.37 657.90,431.79 658.30,430.13 658.70,430.96 659.10,431.33 659.50,431.92 659.90,431.28 660.30,431.63 660.70,431.36 661.10,433.02 661.50,429.56 661.90,431.37 662.30,433.47 662.70,431.67 663.10,430.02 663.50,431.67 663.90,430.43 664.30,431.08 664.70,431.85 665.10,433.11 665.50,432.11 665.90,432.31" fill="none" stroke="#1c1c8c" stroke-width="1.45" stroke-linejoin="round"/>
<line x1="527.00" y1="302.30" x2="583.50" y2="302.30" stroke="#66e066" stroke-width="1.2"/>
<polyline points="527.0,301.3 528.0,301.2 529.0,300.9 530.0,300.7 531.0,300.4 532.0,300.1 533.0,299.8 534.0,299.5 535.0,299.1 536.0,298.6 537.0,298.2 538.0,297.7 539.0,297.2 540.0,296.7 541.0,296.2 542.0,295.6 543.0,295.1 544.0,294.5 545.0,294.0 546.0,293.5 547.0,293.0 548.0,292.6 549.0,292.2 550.0,291.9 551.0,291.6 552.0,291.4 553.0,291.2 554.0,291.1 555.0,291.1 556.0,291.2 557.0,291.3 558.0,291.5 559.0,291.7 560.0,292.1 561.0,292.4 562.0,292.9 563.0,293.3 564.0,293.8 565.0,294.3 566.0,294.9 567.0,295.4 568.0,295.9 569.0,296.5 570.0,297.0 571.0,297.5 572.0,298.0 573.0,298.5 574.0,298.9 575.0,299.3 576.0,299.7 577.0,300.0 578.0,300.3 579.0,300.6 580.0,300.9 581.0,301.1 582.0,301.3 583.0,301.4" fill="none" stroke="#44c044" stroke-width="1.1" opacity="0.95"/>
<line x1="522.40" y1="327.10" x2="586.00" y2="327.10" stroke="#66e066" stroke-width="1.2"/>
<polyline points="522.4,327.1 523.4,327.1 524.4,327.1 525.4,327.1 526.4,327.1 527.4,327.1 528.4,327.1 529.4,327.1 530.4,327.1 531.4,327.1 532.4,327.1 533.4,327.0 534.4,327.0 535.4,327.0 536.4,326.9 537.4,326.8 538.4,326.7 539.4,326.5 540.4,326.2 541.4,325.9 542.4,325.5 543.4,325.0 544.4,324.4 545.4,323.7 546.4,322.9 547.4,322.0 548.4,321.1 549.4,320.1 550.4,319.0 551.4,318.0 552.4,317.1 553.4,316.2 554.4,315.6 555.4,315.1 556.4,314.8 557.4,314.8 558.4,315.0 559.4,315.5 560.4,316.1 561.4,316.9 562.4,317.8 563.4,318.8 564.4,319.8 565.4,320.9 566.4,321.9 567.4,322.8 568.4,323.6 569.4,324.3 570.4,324.9 571.4,325.4 572.4,325.9 573.4,326.2 574.4,326.4 575.4,326.6 576.4,326.8 577.4,326.9 578.4,327.0 579.4,327.0 580.4,327.0 581.4,327.1 582.4,327.1 583.4,327.1 584.4,327.1 585.4,327.1" fill="none" stroke="#44c044" stroke-width="1.1" opacity="0.95"/>
<line x1="523.30" y1="347.90" x2="588.80" y2="347.90" stroke="#66e066" stroke-width="1.2"/>
<polyline points="523.3,347.9 524.3,347.9 525.3,347.9 526.3,347.9 527.3,347.9 528.3,347.9 529.3,347.8 530.3,347.8 531.3,347.8 532.3,347.7 533.3,347.6 534.3,347.6 535.3,347.4 536.3,347.3 537.3,347.1 538.3,346.9 539.3,346.7 540.3,346.3 541.3,346.0 542.3,345.6 543.3,345.1 544.3,344.6 545.3,344.0 546.3,343.3 547.3,342.7 548.3,342.0 549.3,341.3 550.3,340.6 551.3,340.0 552.3,339.4 553.3,338.8 554.3,338.4 555.3,338.0 556.3,337.7 557.3,337.6 558.3,337.6 559.3,337.7 560.3,338.0 561.3,338.4 562.3,338.8 563.3,339.4 564.3,340.0 565.3,340.6 566.3,341.3 567.3,342.0 568.3,342.7 569.3,343.3 570.3,344.0 571.3,344.6 572.3,345.1 573.3,345.6 574.3,346.0 575.3,346.3 576.3,346.7 577.3,346.9 578.3,347.1 579.3,347.3 580.3,347.4 581.3,347.6 582.3,347.6 583.3,347.7 584.3,347.8 585.3,347.8 586.3,347.8 587.3,347.9 588.3,347.9" fill="none" stroke="#44c044" stroke-width="1.1" opacity="0.95"/>
<line x1="518.70" y1="365.60" x2="599.00" y2="365.60" stroke="#66e066" stroke-width="1.2"/>
<polyline points="518.7,365.6 519.7,365.6 520.7,365.6 521.7,365.6 522.7,365.6 523.7,365.6 524.7,365.6 525.7,365.6 526.7,365.5 527.7,365.5 528.7,365.5 529.7,365.5 530.7,365.4 531.7,365.4 532.7,365.3 533.7,365.2 534.7,365.1 535.7,364.9 536.7,364.8 537.7,364.6 538.7,364.3 539.7,364.0 540.7,363.7 541.7,363.4 542.7,363.0 543.7,362.5 544.7,362.0 545.7,361.5 546.7,361.0 547.7,360.4 548.7,359.8 549.7,359.3 550.7,358.7 551.7,358.2 552.7,357.7 553.7,357.2 554.7,356.8 555.7,356.5 556.7,356.3 557.7,356.1 558.7,356.1 559.7,356.1 560.7,356.3 561.7,356.5 562.7,356.8 563.7,357.2 564.7,357.7 565.7,358.2 566.7,358.7 567.7,359.3 568.7,359.8 569.7,360.4 570.7,361.0 571.7,361.5 572.7,362.0 573.7,362.5 574.7,363.0 575.7,363.4 576.7,363.7 577.7,364.0 578.7,364.3 579.7,364.6 580.7,364.8 581.7,364.9 582.7,365.1 583.7,365.2 584.7,365.3 585.7,365.4 586.7,365.4 587.7,365.5 588.7,365.5 589.7,365.5 590.7,365.5 591.7,365.6 592.7,365.6 593.7,365.6 594.7,365.6 595.7,365.6 596.7,365.6 597.7,365.6 598.7,365.6" fill="none" stroke="#44c044" stroke-width="1.1" opacity="0.95"/>
<line x1="526.50" y1="387.60" x2="597.00" y2="387.60" stroke="#66e066" stroke-width="1.2"/>
<polyline points="526.5,387.6 527.5,387.6 528.5,387.6 529.5,387.6 530.5,387.6 531.5,387.6 532.5,387.5 533.5,387.5 534.5,387.5 535.5,387.4 536.5,387.4 537.5,387.3 538.5,387.2 539.5,387.0 540.5,386.9 541.5,386.7 542.5,386.4 543.5,386.1 544.5,385.8 545.5,385.4 546.5,384.9 547.5,384.4 548.5,383.9 549.5,383.3 550.5,382.6 551.5,381.9 552.5,381.2 553.5,380.5 554.5,379.7 555.5,379.0 556.5,378.4 557.5,377.8 558.5,377.3 559.5,376.9 560.5,376.6 561.5,376.4 562.5,376.3 563.5,376.4 564.5,376.6 565.5,376.9 566.5,377.3 567.5,377.8 568.5,378.4 569.5,379.0 570.5,379.7 571.5,380.5 572.5,381.2 573.5,381.9 574.5,382.6 575.5,383.3 576.5,383.9 577.5,384.4 578.5,384.9 579.5,385.4 580.5,385.8 581.5,386.1 582.5,386.4 583.5,386.7 584.5,386.9 585.5,387.0 586.5,387.2 587.5,387.3 588.5,387.4 589.5,387.4 590.5,387.5 591.5,387.5 592.5,387.5 593.5,387.6 594.5,387.6 595.5,387.6 596.5,387.6" fill="none" stroke="#44c044" stroke-width="1.1" opacity="0.95"/>
<line x1="525.70" y1="405.30" x2="595.00" y2="405.30" stroke="#66e066" stroke-width="1.2"/>
<polyline points="525.7,405.2 526.7,405.2 527.7,405.2 528.7,405.1 529.7,405.1 530.7,405.1 531.7,405.0 532.7,404.9 533.7,404.9 534.7,404.8 535.7,404.6 536.7,404.5 537.7,404.4 538.7,404.2 539.7,404.0 540.7,403.8 541.7,403.5 542.7,403.2 543.7,403.0 544.7,402.6 545.7,402.3 546.7,401.9 547.7,401.6 548.7,401.2 549.7,400.8 550.7,400.4 551.7,400.0 552.7,399.6 553.7,399.2 554.7,398.8 555.7,398.5 556.7,398.2 557.7,397.9 558.7,397.7 559.7,397.5 560.7,397.4 561.7,397.3 562.7,397.3 563.7,397.3 564.7,397.4 565.7,397.6 566.7,397.8 567.7,398.0 568.7,398.3 569.7,398.6 570.7,399.0 571.7,399.3 572.7,399.7 573.7,400.1 574.7,400.5 575.7,400.9 576.7,401.3 577.7,401.7 578.7,402.1 579.7,402.4 580.7,402.8 581.7,403.1 582.7,403.4 583.7,403.6 584.7,403.9 585.7,404.1 586.7,404.3 587.7,404.4 588.7,404.6 589.7,404.7 590.7,404.8 591.7,404.9 592.7,405.0 593.7,405.0 594.7,405.1" fill="none" stroke="#44c044" stroke-width="1.1" opacity="0.95"/>
<line x1="531.00" y1="425.60" x2="603.00" y2="425.60" stroke="#66e066" stroke-width="1.2"/>
<polyline points="531.0,425.6 532.0,425.6 533.0,425.6 534.0,425.6 535.0,425.6 536.0,425.5 537.0,425.5 538.0,425.5 539.0,425.5 540.0,425.4 541.0,425.4 542.0,425.3 543.0,425.2 544.0,425.1 545.0,425.0 546.0,424.9 547.0,424.8 548.0,424.6 549.0,424.4 550.0,424.2 551.0,423.9 552.0,423.6 553.0,423.3 554.0,423.0 555.0,422.6 556.0,422.3 557.0,421.9 558.0,421.5 559.0,421.1 560.0,420.7 561.0,420.3 562.0,419.9 563.0,419.5 564.0,419.2 565.0,418.9 566.0,418.7 567.0,418.5 568.0,418.3 569.0,418.2 570.0,418.2 571.0,418.2 572.0,418.3 573.0,418.5 574.0,418.7 575.0,419.0 576.0,419.3 577.0,419.6 578.0,420.0 579.0,420.3 580.0,420.7 581.0,421.2 582.0,421.6 583.0,422.0 584.0,422.3 585.0,422.7 586.0,423.1 587.0,423.4 588.0,423.7 589.0,424.0 590.0,424.2 591.0,424.4 592.0,424.6 593.0,424.8 594.0,424.9 595.0,425.1 596.0,425.2 597.0,425.2 598.0,425.3 599.0,425.4 600.0,425.4 601.0,425.5 602.0,425.5 603.0,425.5" fill="none" stroke="#44c044" stroke-width="1.1" opacity="0.95"/>
<rect x="474.0" y="257.6" width="192.5" height="195.0" fill="none" stroke="#444" stroke-width="0.9"/>
<line x1="474.00" y1="257.60" x2="474.00" y2="452.60" stroke="#888" stroke-width="1.4"/>
<line x1="473.80" y1="257.60" x2="473.80" y2="260.00" stroke="#333" stroke-width="0.8"/>
<line x1="473.80" y1="452.60" x2="473.80" y2="450.20" stroke="#333" stroke-width="0.8"/>
<text transform="translate(474.00,467.00) scale(1.25,1)" font-size="9.2" font-weight="normal" fill="#111" text-anchor="middle">30</text>
<line x1="497.89" y1="257.60" x2="497.89" y2="260.00" stroke="#333" stroke-width="0.8"/>
<line x1="497.89" y1="452.60" x2="497.89" y2="450.20" stroke="#333" stroke-width="0.8"/>
<line x1="521.98" y1="257.60" x2="521.98" y2="260.00" stroke="#333" stroke-width="0.8"/>
<line x1="521.98" y1="452.60" x2="521.98" y2="450.20" stroke="#333" stroke-width="0.8"/>
<text transform="translate(522.18,467.00) scale(1.25,1)" font-size="9.2" font-weight="normal" fill="#111" text-anchor="middle">35</text>
<line x1="546.06" y1="257.60" x2="546.06" y2="260.00" stroke="#333" stroke-width="0.8"/>
<line x1="546.06" y1="452.60" x2="546.06" y2="450.20" stroke="#333" stroke-width="0.8"/>
<line x1="570.15" y1="257.60" x2="570.15" y2="260.00" stroke="#333" stroke-width="0.8"/>
<line x1="570.15" y1="452.60" x2="570.15" y2="450.20" stroke="#333" stroke-width="0.8"/>
<text transform="translate(570.35,467.00) scale(1.25,1)" font-size="9.2" font-weight="normal" fill="#111" text-anchor="middle">40</text>
<line x1="594.24" y1="257.60" x2="594.24" y2="260.00" stroke="#333" stroke-width="0.8"/>
<line x1="594.24" y1="452.60" x2="594.24" y2="450.20" stroke="#333" stroke-width="0.8"/>
<line x1="618.33" y1="257.60" x2="618.33" y2="260.00" stroke="#333" stroke-width="0.8"/>
<line x1="618.33" y1="452.60" x2="618.33" y2="450.20" stroke="#333" stroke-width="0.8"/>
<text transform="translate(618.53,467.00) scale(1.25,1)" font-size="9.2" font-weight="normal" fill="#111" text-anchor="middle">45</text>
<line x1="642.41" y1="257.60" x2="642.41" y2="260.00" stroke="#333" stroke-width="0.8"/>
<line x1="642.41" y1="452.60" x2="642.41" y2="450.20" stroke="#333" stroke-width="0.8"/>
<line x1="666.50" y1="257.60" x2="666.50" y2="260.00" stroke="#333" stroke-width="0.8"/>
<line x1="666.50" y1="452.60" x2="666.50" y2="450.20" stroke="#333" stroke-width="0.8"/>
<text transform="translate(666.70,467.00) scale(1.25,1)" font-size="9.2" font-weight="normal" fill="#111" text-anchor="middle">50</text>
<text transform="translate(569.8,481.2) scale(1.15,1)" font-size="8.8" fill="#111" text-anchor="middle">2<tspan font-style="italic">&#952;</tspan> (&#176;)</text>
<text transform="translate(467.00,354.40) rotate(-90)" font-size="9.3" font-weight="normal" fill="#111" text-anchor="middle">Intensity (a.u.)</text>
<line x1="553.50" y1="257.60" x2="553.50" y2="272.20" stroke="#333" stroke-width="0.8"/>
<line x1="602.20" y1="257.60" x2="602.20" y2="266.40" stroke="#333" stroke-width="0.8"/>
<text transform="translate(556.60,279.10) scale(1.16,1)" font-size="7.7" font-weight="normal" fill="#111" text-anchor="middle">Au (111)</text>
<text transform="translate(605.80,274.00) scale(1.16,1)" font-size="7.7" font-weight="normal" fill="#111" text-anchor="middle">Au (200)</text>
<line x1="571.60" y1="435.90" x2="571.60" y2="452.60" stroke="#1a1a8a" stroke-width="0.9"/>
<line x1="634.40" y1="443.20" x2="634.40" y2="452.60" stroke="#1a1a8a" stroke-width="0.9"/>
<text transform="translate(574.30,432.90) scale(1.16,1)" font-size="7.7" font-weight="normal" fill="#1a1a8a" text-anchor="middle">Pd (111)</text>
<text transform="translate(638.00,440.60) scale(1.16,1)" font-size="7.7" font-weight="normal" fill="#1a1a8a" text-anchor="middle">Pd (200)</text>
<line x1="686.20" y1="285.50" x2="707.10" y2="285.50" stroke="#000" stroke-width="1.2"/>
<text transform="translate(710.6,288.0) scale(1.07,1)" font-size="8.5" fill="#111">Au</text>
<line x1="686.20" y1="318.50" x2="707.10" y2="318.50" stroke="#f0892a" stroke-width="1.2"/>
<text transform="translate(711.2,321.5) scale(1.07,1)" font-size="8.5" fill="#111">Au<tspan font-size="5.4" dy="2.6">80</tspan><tspan dy="-2.6">Pd</tspan><tspan font-size="5.4" dy="2.6">20</tspan></text>
<line x1="686.20" y1="347.50" x2="707.10" y2="347.50" stroke="#ee22ee" stroke-width="1.2"/>
<text transform="translate(711.2,350.2) scale(1.07,1)" font-size="8.5" fill="#111">Au<tspan font-size="5.4" dy="2.6">67</tspan><tspan dy="-2.6">Pd</tspan><tspan font-size="5.4" dy="2.6">33</tspan></text>
<line x1="686.20" y1="372.50" x2="707.10" y2="372.50" stroke="#ee1111" stroke-width="1.2"/>
<text transform="translate(711.2,375.5) scale(1.07,1)" font-size="8.5" fill="#111">Au<tspan font-size="5.4" dy="2.6">50</tspan><tspan dy="-2.6">Pd</tspan><tspan font-size="5.4" dy="2.6">50</tspan></text>
<line x1="686.20" y1="396.50" x2="707.10" y2="396.50" stroke="#1a1ad8" stroke-width="1.2"/>
<text transform="translate(711.2,399.2) scale(1.07,1)" font-size="8.5" fill="#111">Au<tspan font-size="5.4" dy="2.6">33</tspan><tspan dy="-2.6">Pd</tspan><tspan font-size="5.4" dy="2.6">67</tspan></text>
<line x1="686.20" y1="412.50" x2="707.10" y2="412.50" stroke="#2a7a2a" stroke-width="1.2"/>
<text transform="translate(711.2,415.7) scale(1.07,1)" font-size="8.5" fill="#111">Au<tspan font-size="5.4" dy="2.6">20</tspan><tspan dy="-2.6">Pd</tspan><tspan font-size="5.4" dy="2.6">80</tspan></text>
<line x1="686.20" y1="432.50" x2="707.10" y2="432.50" stroke="#3c3c88" stroke-width="1.2"/>
<text transform="translate(710.6,434.9) scale(1.07,1)" font-size="8.5" fill="#111">Pd</text>
</svg></body></html>
